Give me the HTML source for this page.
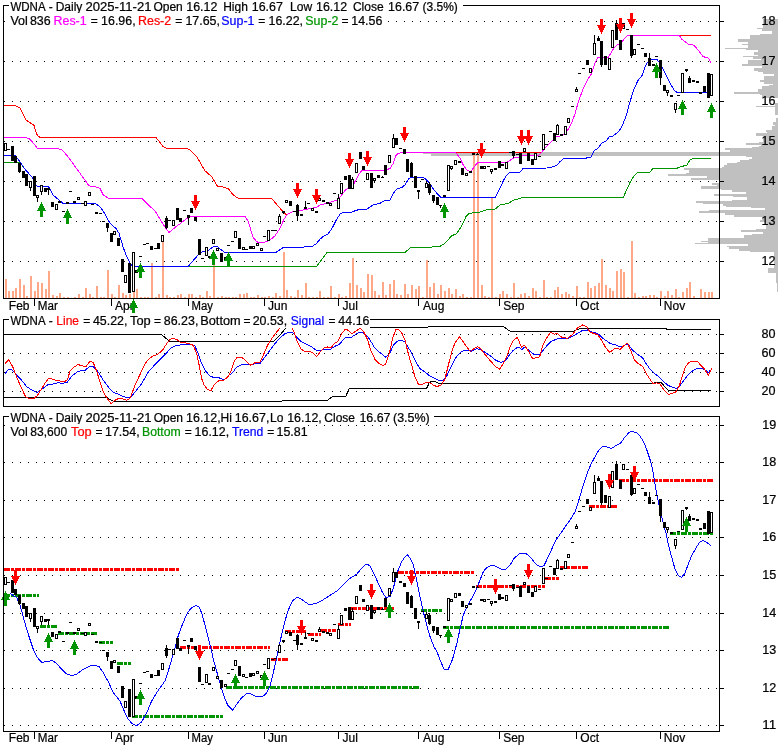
<!DOCTYPE html><html><head><meta charset="utf-8"><title>WDNA chart</title>
<style>html,body{margin:0;padding:0;background:#fff}svg{display:block}text{font-family:"Liberation Sans",Arial,sans-serif;font-size:12px;stroke-width:0.22px;paint-order:stroke}</style></head><body>
<svg width="780" height="745" viewBox="0 0 780 745">
<rect width="780" height="745" fill="#fff"/>
<g shape-rendering="crispEdges">
<rect x="763" y="19" width="15" height="9" fill="#c0c0c0"/>
<rect x="757" y="28" width="21" height="1" fill="#c0c0c0"/>
<rect x="762" y="29" width="16" height="2" fill="#c0c0c0"/>
<rect x="772" y="31" width="6" height="3" fill="#c0c0c0"/>
<rect x="760" y="34" width="18" height="1" fill="#c0c0c0"/>
<rect x="750" y="35" width="28" height="4" fill="#c0c0c0"/>
<rect x="738" y="39" width="40" height="3" fill="#c0c0c0"/>
<rect x="748" y="42" width="30" height="2" fill="#c0c0c0"/>
<rect x="742" y="44" width="36" height="1" fill="#c0c0c0"/>
<rect x="748" y="45" width="30" height="3" fill="#c0c0c0"/>
<rect x="725" y="48" width="53" height="1" fill="#c0c0c0"/>
<rect x="746" y="49" width="32" height="1" fill="#c0c0c0"/>
<rect x="758" y="50" width="20" height="2" fill="#c0c0c0"/>
<rect x="754" y="52" width="24" height="3" fill="#c0c0c0"/>
<rect x="758" y="55" width="20" height="1" fill="#c0c0c0"/>
<rect x="743" y="56" width="35" height="1" fill="#c0c0c0"/>
<rect x="753" y="57" width="25" height="2" fill="#c0c0c0"/>
<rect x="761" y="59" width="17" height="1" fill="#c0c0c0"/>
<rect x="748" y="60" width="30" height="4" fill="#c0c0c0"/>
<rect x="742" y="64" width="36" height="2" fill="#c0c0c0"/>
<rect x="762" y="66" width="16" height="2" fill="#c0c0c0"/>
<rect x="754" y="68" width="24" height="3" fill="#c0c0c0"/>
<rect x="758" y="71" width="20" height="1" fill="#c0c0c0"/>
<rect x="763" y="72" width="15" height="2" fill="#c0c0c0"/>
<rect x="774" y="74" width="4" height="2" fill="#c0c0c0"/>
<rect x="764" y="76" width="14" height="4" fill="#c0c0c0"/>
<rect x="760" y="80" width="18" height="2" fill="#c0c0c0"/>
<rect x="764" y="82" width="14" height="2" fill="#c0c0c0"/>
<rect x="773" y="84" width="5" height="1" fill="#c0c0c0"/>
<rect x="769" y="85" width="9" height="1" fill="#c0c0c0"/>
<rect x="762" y="86" width="16" height="3" fill="#c0c0c0"/>
<rect x="758" y="89" width="20" height="3" fill="#c0c0c0"/>
<rect x="734" y="92" width="44" height="2" fill="#c0c0c0"/>
<rect x="760" y="94" width="18" height="1" fill="#c0c0c0"/>
<rect x="762" y="95" width="16" height="3" fill="#c0c0c0"/>
<rect x="775" y="103" width="3" height="12" fill="#c0c0c0"/>
<rect x="756" y="106" width="22" height="1" fill="#c0c0c0"/>
<rect x="776" y="118" width="2" height="4" fill="#c0c0c0"/>
<rect x="773" y="122" width="5" height="3" fill="#c0c0c0"/>
<rect x="775" y="125" width="3" height="1" fill="#c0c0c0"/>
<rect x="772" y="126" width="6" height="4" fill="#c0c0c0"/>
<rect x="766" y="130" width="12" height="2" fill="#c0c0c0"/>
<rect x="767" y="132" width="11" height="1" fill="#c0c0c0"/>
<rect x="756" y="133" width="22" height="3" fill="#c0c0c0"/>
<rect x="763" y="136" width="15" height="6" fill="#c0c0c0"/>
<rect x="759" y="142" width="19" height="1" fill="#c0c0c0"/>
<rect x="746" y="143" width="32" height="2" fill="#c0c0c0"/>
<rect x="761" y="145" width="17" height="1" fill="#c0c0c0"/>
<rect x="759" y="146" width="19" height="1" fill="#c0c0c0"/>
<rect x="752" y="147" width="26" height="1" fill="#c0c0c0"/>
<rect x="725" y="148" width="53" height="2" fill="#c0c0c0"/>
<rect x="730" y="150" width="48" height="2" fill="#c0c0c0"/>
<rect x="423" y="152" width="355" height="2" fill="#c0c0c0"/>
<rect x="431" y="154" width="347" height="2" fill="#c0c0c0"/>
<rect x="746" y="156" width="32" height="1" fill="#c0c0c0"/>
<rect x="752" y="157" width="26" height="2" fill="#c0c0c0"/>
<rect x="749" y="159" width="29" height="1" fill="#c0c0c0"/>
<rect x="740" y="160" width="38" height="2" fill="#c0c0c0"/>
<rect x="737" y="162" width="41" height="1" fill="#c0c0c0"/>
<rect x="727" y="163" width="51" height="2" fill="#c0c0c0"/>
<rect x="724" y="165" width="54" height="2" fill="#c0c0c0"/>
<rect x="722" y="167" width="56" height="1" fill="#c0c0c0"/>
<rect x="684" y="168" width="94" height="2" fill="#c0c0c0"/>
<rect x="689" y="170" width="89" height="3" fill="#c0c0c0"/>
<rect x="686" y="173" width="92" height="1" fill="#c0c0c0"/>
<rect x="668" y="174" width="110" height="2" fill="#c0c0c0"/>
<rect x="707" y="176" width="71" height="2" fill="#c0c0c0"/>
<rect x="691" y="178" width="87" height="2" fill="#c0c0c0"/>
<rect x="719" y="180" width="59" height="3" fill="#c0c0c0"/>
<rect x="712" y="183" width="66" height="2" fill="#c0c0c0"/>
<rect x="717" y="185" width="61" height="1" fill="#c0c0c0"/>
<rect x="701" y="186" width="77" height="3" fill="#c0c0c0"/>
<rect x="721" y="189" width="57" height="1" fill="#c0c0c0"/>
<rect x="732" y="190" width="46" height="2" fill="#c0c0c0"/>
<rect x="746" y="192" width="32" height="2" fill="#c0c0c0"/>
<rect x="714" y="194" width="64" height="2" fill="#c0c0c0"/>
<rect x="733" y="196" width="45" height="1" fill="#c0c0c0"/>
<rect x="747" y="197" width="31" height="3" fill="#c0c0c0"/>
<rect x="732" y="200" width="46" height="1" fill="#c0c0c0"/>
<rect x="696" y="201" width="82" height="2" fill="#c0c0c0"/>
<rect x="703" y="203" width="75" height="1" fill="#c0c0c0"/>
<rect x="723" y="204" width="55" height="2" fill="#c0c0c0"/>
<rect x="726" y="206" width="52" height="1" fill="#c0c0c0"/>
<rect x="751" y="207" width="27" height="1" fill="#c0c0c0"/>
<rect x="765" y="208" width="13" height="2" fill="#c0c0c0"/>
<rect x="709" y="210" width="69" height="1" fill="#c0c0c0"/>
<rect x="699" y="211" width="79" height="2" fill="#c0c0c0"/>
<rect x="725" y="213" width="53" height="2" fill="#c0c0c0"/>
<rect x="734" y="215" width="44" height="2" fill="#c0c0c0"/>
<rect x="762" y="217" width="16" height="3" fill="#c0c0c0"/>
<rect x="760" y="220" width="18" height="2" fill="#c0c0c0"/>
<rect x="766" y="222" width="12" height="7" fill="#c0c0c0"/>
<rect x="756" y="229" width="22" height="1" fill="#c0c0c0"/>
<rect x="741" y="230" width="37" height="2" fill="#c0c0c0"/>
<rect x="763" y="232" width="15" height="2" fill="#c0c0c0"/>
<rect x="752" y="234" width="26" height="1" fill="#c0c0c0"/>
<rect x="744" y="235" width="34" height="3" fill="#c0c0c0"/>
<rect x="708" y="238" width="70" height="3" fill="#c0c0c0"/>
<rect x="701" y="241" width="77" height="1" fill="#c0c0c0"/>
<rect x="708" y="242" width="70" height="1" fill="#c0c0c0"/>
<rect x="695" y="243" width="83" height="1" fill="#c0c0c0"/>
<rect x="748" y="244" width="30" height="2" fill="#c0c0c0"/>
<rect x="727" y="246" width="51" height="1" fill="#c0c0c0"/>
<rect x="729" y="247" width="49" height="2" fill="#c0c0c0"/>
<rect x="739" y="249" width="39" height="2" fill="#c0c0c0"/>
<rect x="750" y="251" width="28" height="1" fill="#c0c0c0"/>
<rect x="774" y="252" width="4" height="16" fill="#c0c0c0"/>
<rect x="768" y="268" width="10" height="5" fill="#c0c0c0"/>
<rect x="776" y="273" width="2" height="10" fill="#c0c0c0"/>
<rect x="777" y="283" width="1" height="9" fill="#c0c0c0"/>
</g>
<g shape-rendering="crispEdges" fill="#000">
<line x1="4" y1="21.5" x2="719" y2="21.5" stroke="#000" stroke-width="1" stroke-dasharray="1 7"/>
<line x1="4" y1="61.5" x2="719" y2="61.5" stroke="#000" stroke-width="1" stroke-dasharray="1 7"/>
<line x1="4" y1="101.5" x2="719" y2="101.5" stroke="#000" stroke-width="1" stroke-dasharray="1 7"/>
<line x1="4" y1="141.5" x2="719" y2="141.5" stroke="#000" stroke-width="1" stroke-dasharray="1 7"/>
<line x1="4" y1="181.5" x2="719" y2="181.5" stroke="#000" stroke-width="1" stroke-dasharray="1 7"/>
<line x1="4" y1="221.5" x2="719" y2="221.5" stroke="#000" stroke-width="1" stroke-dasharray="1 7"/>
<line x1="4" y1="261.5" x2="719" y2="261.5" stroke="#000" stroke-width="1" stroke-dasharray="1 7"/>
</g>
<g shape-rendering="crispEdges">
<rect x="5" y="279" width="2" height="19" fill="#ffa888"/>
<rect x="8" y="291" width="2" height="7" fill="#ffa888"/>
<rect x="12" y="291" width="2" height="7" fill="#ffa888"/>
<rect x="15" y="288" width="2" height="10" fill="#ffa888"/>
<rect x="19" y="279" width="2" height="19" fill="#ffa888"/>
<rect x="23" y="285" width="2" height="13" fill="#ffa888"/>
<rect x="26" y="296" width="2" height="2" fill="#ffa888"/>
<rect x="30" y="276" width="2" height="22" fill="#ffa888"/>
<rect x="34" y="291" width="2" height="7" fill="#ffa888"/>
<rect x="37" y="282" width="2" height="16" fill="#ffa888"/>
<rect x="41" y="283" width="2" height="15" fill="#ffa888"/>
<rect x="45" y="289" width="2" height="9" fill="#ffa888"/>
<rect x="48" y="271" width="2" height="27" fill="#ffa888"/>
<rect x="52" y="295" width="2" height="3" fill="#ffa888"/>
<rect x="56" y="296" width="2" height="2" fill="#ffa888"/>
<rect x="59" y="293" width="2" height="5" fill="#ffa888"/>
<rect x="63" y="297" width="2" height="1" fill="#ffa888"/>
<rect x="67" y="297" width="2" height="1" fill="#ffa888"/>
<rect x="74" y="297" width="2" height="1" fill="#ffa888"/>
<rect x="78" y="294" width="2" height="4" fill="#ffa888"/>
<rect x="82" y="297" width="2" height="1" fill="#ffa888"/>
<rect x="85" y="288" width="2" height="10" fill="#ffa888"/>
<rect x="89" y="294" width="2" height="4" fill="#ffa888"/>
<rect x="92" y="297" width="2" height="1" fill="#ffa888"/>
<rect x="96" y="286" width="2" height="12" fill="#ffa888"/>
<rect x="100" y="297" width="2" height="1" fill="#ffa888"/>
<rect x="103" y="297" width="2" height="1" fill="#ffa888"/>
<rect x="107" y="270" width="2" height="28" fill="#ffa888"/>
<rect x="111" y="294" width="2" height="4" fill="#ffa888"/>
<rect x="114" y="297" width="2" height="1" fill="#ffa888"/>
<rect x="118" y="285" width="2" height="13" fill="#ffa888"/>
<rect x="122" y="293" width="2" height="5" fill="#ffa888"/>
<rect x="125" y="295" width="2" height="3" fill="#ffa888"/>
<rect x="129" y="294" width="2" height="4" fill="#ffa888"/>
<rect x="133" y="291" width="2" height="7" fill="#ffa888"/>
<rect x="136" y="289" width="2" height="9" fill="#ffa888"/>
<rect x="140" y="297" width="2" height="1" fill="#ffa888"/>
<rect x="144" y="297" width="2" height="1" fill="#ffa888"/>
<rect x="147" y="297" width="2" height="1" fill="#ffa888"/>
<rect x="151" y="263" width="2" height="35" fill="#ffa888"/>
<rect x="155" y="297" width="2" height="1" fill="#ffa888"/>
<rect x="158" y="294" width="2" height="4" fill="#ffa888"/>
<rect x="162" y="242" width="2" height="56" fill="#ffa888"/>
<rect x="166" y="295" width="2" height="3" fill="#ffa888"/>
<rect x="169" y="297" width="2" height="1" fill="#ffa888"/>
<rect x="173" y="297" width="2" height="1" fill="#ffa888"/>
<rect x="177" y="295" width="2" height="3" fill="#ffa888"/>
<rect x="180" y="294" width="2" height="4" fill="#ffa888"/>
<rect x="184" y="297" width="2" height="1" fill="#ffa888"/>
<rect x="188" y="294" width="2" height="4" fill="#ffa888"/>
<rect x="191" y="294" width="2" height="4" fill="#ffa888"/>
<rect x="195" y="297" width="2" height="1" fill="#ffa888"/>
<rect x="199" y="295" width="2" height="3" fill="#ffa888"/>
<rect x="202" y="297" width="2" height="1" fill="#ffa888"/>
<rect x="206" y="291" width="2" height="7" fill="#ffa888"/>
<rect x="209" y="296" width="2" height="2" fill="#ffa888"/>
<rect x="213" y="263" width="2" height="35" fill="#ffa888"/>
<rect x="217" y="297" width="2" height="1" fill="#ffa888"/>
<rect x="221" y="296" width="2" height="2" fill="#ffa888"/>
<rect x="225" y="297" width="2" height="1" fill="#ffa888"/>
<rect x="228" y="297" width="2" height="1" fill="#ffa888"/>
<rect x="232" y="297" width="2" height="1" fill="#ffa888"/>
<rect x="235" y="297" width="2" height="1" fill="#ffa888"/>
<rect x="239" y="294" width="2" height="4" fill="#ffa888"/>
<rect x="243" y="294" width="2" height="4" fill="#ffa888"/>
<rect x="246" y="293" width="2" height="5" fill="#ffa888"/>
<rect x="250" y="297" width="2" height="1" fill="#ffa888"/>
<rect x="253" y="297" width="2" height="1" fill="#ffa888"/>
<rect x="257" y="295" width="2" height="3" fill="#ffa888"/>
<rect x="261" y="297" width="2" height="1" fill="#ffa888"/>
<rect x="264" y="297" width="2" height="1" fill="#ffa888"/>
<rect x="268" y="296" width="2" height="2" fill="#ffa888"/>
<rect x="272" y="297" width="2" height="1" fill="#ffa888"/>
<rect x="275" y="293" width="2" height="5" fill="#ffa888"/>
<rect x="279" y="296" width="2" height="2" fill="#ffa888"/>
<rect x="283" y="252" width="2" height="46" fill="#ffa888"/>
<rect x="286" y="290" width="2" height="8" fill="#ffa888"/>
<rect x="290" y="296" width="2" height="2" fill="#ffa888"/>
<rect x="294" y="297" width="2" height="1" fill="#ffa888"/>
<rect x="297" y="290" width="2" height="8" fill="#ffa888"/>
<rect x="301" y="295" width="2" height="3" fill="#ffa888"/>
<rect x="305" y="283" width="2" height="15" fill="#ffa888"/>
<rect x="308" y="297" width="2" height="1" fill="#ffa888"/>
<rect x="312" y="297" width="2" height="1" fill="#ffa888"/>
<rect x="316" y="297" width="2" height="1" fill="#ffa888"/>
<rect x="319" y="291" width="2" height="7" fill="#ffa888"/>
<rect x="323" y="297" width="2" height="1" fill="#ffa888"/>
<rect x="327" y="297" width="2" height="1" fill="#ffa888"/>
<rect x="330" y="286" width="2" height="12" fill="#ffa888"/>
<rect x="334" y="297" width="2" height="1" fill="#ffa888"/>
<rect x="338" y="294" width="2" height="4" fill="#ffa888"/>
<rect x="341" y="297" width="2" height="1" fill="#ffa888"/>
<rect x="345" y="296" width="2" height="2" fill="#ffa888"/>
<rect x="349" y="283" width="2" height="15" fill="#ffa888"/>
<rect x="352" y="258" width="2" height="40" fill="#ffa888"/>
<rect x="356" y="285" width="2" height="13" fill="#ffa888"/>
<rect x="360" y="288" width="2" height="10" fill="#ffa888"/>
<rect x="363" y="292" width="2" height="6" fill="#ffa888"/>
<rect x="367" y="274" width="2" height="24" fill="#ffa888"/>
<rect x="371" y="275" width="2" height="23" fill="#ffa888"/>
<rect x="374" y="291" width="2" height="7" fill="#ffa888"/>
<rect x="378" y="295" width="2" height="3" fill="#ffa888"/>
<rect x="382" y="282" width="2" height="16" fill="#ffa888"/>
<rect x="385" y="295" width="2" height="3" fill="#ffa888"/>
<rect x="389" y="284" width="2" height="14" fill="#ffa888"/>
<rect x="393" y="280" width="2" height="18" fill="#ffa888"/>
<rect x="396" y="294" width="2" height="4" fill="#ffa888"/>
<rect x="400" y="295" width="2" height="3" fill="#ffa888"/>
<rect x="404" y="284" width="2" height="14" fill="#ffa888"/>
<rect x="407" y="294" width="2" height="4" fill="#ffa888"/>
<rect x="411" y="285" width="2" height="13" fill="#ffa888"/>
<rect x="415" y="289" width="2" height="9" fill="#ffa888"/>
<rect x="418" y="286" width="2" height="12" fill="#ffa888"/>
<rect x="422" y="297" width="2" height="1" fill="#ffa888"/>
<rect x="426" y="260" width="2" height="38" fill="#ffa888"/>
<rect x="429" y="287" width="2" height="11" fill="#ffa888"/>
<rect x="433" y="283" width="2" height="15" fill="#ffa888"/>
<rect x="437" y="294" width="2" height="4" fill="#ffa888"/>
<rect x="440" y="285" width="2" height="13" fill="#ffa888"/>
<rect x="444" y="291" width="2" height="7" fill="#ffa888"/>
<rect x="448" y="288" width="2" height="10" fill="#ffa888"/>
<rect x="451" y="294" width="2" height="4" fill="#ffa888"/>
<rect x="455" y="289" width="2" height="9" fill="#ffa888"/>
<rect x="459" y="296" width="2" height="2" fill="#ffa888"/>
<rect x="462" y="294" width="2" height="4" fill="#ffa888"/>
<rect x="466" y="297" width="2" height="1" fill="#ffa888"/>
<rect x="470" y="297" width="2" height="1" fill="#ffa888"/>
<rect x="473" y="155" width="2" height="143" fill="#ffa888"/>
<rect x="477" y="155" width="2" height="143" fill="#ffa888"/>
<rect x="481" y="285" width="2" height="13" fill="#ffa888"/>
<rect x="484" y="296" width="2" height="2" fill="#ffa888"/>
<rect x="488" y="297" width="2" height="1" fill="#ffa888"/>
<rect x="491" y="198" width="2" height="100" fill="#ffa888"/>
<rect x="495" y="297" width="2" height="1" fill="#ffa888"/>
<rect x="499" y="294" width="2" height="4" fill="#ffa888"/>
<rect x="502" y="291" width="2" height="7" fill="#ffa888"/>
<rect x="506" y="294" width="2" height="4" fill="#ffa888"/>
<rect x="510" y="297" width="2" height="1" fill="#ffa888"/>
<rect x="513" y="283" width="2" height="15" fill="#ffa888"/>
<rect x="517" y="297" width="2" height="1" fill="#ffa888"/>
<rect x="520" y="294" width="2" height="4" fill="#ffa888"/>
<rect x="524" y="293" width="2" height="5" fill="#ffa888"/>
<rect x="528" y="296" width="2" height="2" fill="#ffa888"/>
<rect x="532" y="288" width="2" height="10" fill="#ffa888"/>
<rect x="535" y="291" width="2" height="7" fill="#ffa888"/>
<rect x="539" y="297" width="2" height="1" fill="#ffa888"/>
<rect x="543" y="280" width="2" height="18" fill="#ffa888"/>
<rect x="546" y="297" width="2" height="1" fill="#ffa888"/>
<rect x="550" y="297" width="2" height="1" fill="#ffa888"/>
<rect x="554" y="290" width="2" height="8" fill="#ffa888"/>
<rect x="557" y="287" width="2" height="11" fill="#ffa888"/>
<rect x="561" y="294" width="2" height="4" fill="#ffa888"/>
<rect x="565" y="292" width="2" height="6" fill="#ffa888"/>
<rect x="568" y="294" width="2" height="4" fill="#ffa888"/>
<rect x="572" y="296" width="2" height="2" fill="#ffa888"/>
<rect x="576" y="286" width="2" height="12" fill="#ffa888"/>
<rect x="579" y="297" width="2" height="1" fill="#ffa888"/>
<rect x="583" y="297" width="2" height="1" fill="#ffa888"/>
<rect x="587" y="282" width="2" height="16" fill="#ffa888"/>
<rect x="590" y="288" width="2" height="10" fill="#ffa888"/>
<rect x="594" y="286" width="2" height="12" fill="#ffa888"/>
<rect x="598" y="283" width="2" height="15" fill="#ffa888"/>
<rect x="601" y="259" width="2" height="39" fill="#ffa888"/>
<rect x="605" y="285" width="2" height="13" fill="#ffa888"/>
<rect x="609" y="288" width="2" height="10" fill="#ffa888"/>
<rect x="612" y="291" width="2" height="7" fill="#ffa888"/>
<rect x="616" y="271" width="2" height="27" fill="#ffa888"/>
<rect x="620" y="269" width="2" height="29" fill="#ffa888"/>
<rect x="623" y="272" width="2" height="26" fill="#ffa888"/>
<rect x="627" y="297" width="2" height="1" fill="#ffa888"/>
<rect x="631" y="241" width="2" height="57" fill="#ffa888"/>
<rect x="634" y="293" width="2" height="5" fill="#ffa888"/>
<rect x="638" y="297" width="2" height="1" fill="#ffa888"/>
<rect x="642" y="296" width="2" height="2" fill="#ffa888"/>
<rect x="645" y="296" width="2" height="2" fill="#ffa888"/>
<rect x="649" y="295" width="2" height="3" fill="#ffa888"/>
<rect x="653" y="295" width="2" height="3" fill="#ffa888"/>
<rect x="656" y="297" width="2" height="1" fill="#ffa888"/>
<rect x="660" y="291" width="2" height="7" fill="#ffa888"/>
<rect x="664" y="296" width="2" height="2" fill="#ffa888"/>
<rect x="667" y="291" width="2" height="7" fill="#ffa888"/>
<rect x="671" y="295" width="2" height="3" fill="#ffa888"/>
<rect x="675" y="289" width="2" height="9" fill="#ffa888"/>
<rect x="678" y="297" width="2" height="1" fill="#ffa888"/>
<rect x="682" y="292" width="2" height="6" fill="#ffa888"/>
<rect x="686" y="288" width="2" height="10" fill="#ffa888"/>
<rect x="689" y="282" width="2" height="16" fill="#ffa888"/>
<rect x="693" y="296" width="2" height="2" fill="#ffa888"/>
<rect x="700" y="289" width="2" height="9" fill="#ffa888"/>
<rect x="704" y="292" width="2" height="6" fill="#ffa888"/>
<rect x="708" y="292" width="2" height="6" fill="#ffa888"/>
<rect x="711" y="292" width="2" height="6" fill="#ffa888"/>
</g>
<polyline points="4,162.5 20,162.5 25,169.2 33,178.3 36,185.8 38,186.3 48.3,186.3 53,195 63,203.3 95,203.3 100,206.7 104.5,213.3 108,220 111.7,225 116,228.3 119,233.3 123,246.7 126.7,256.7 130,263.3 133,266.3 316.7,266.3 327,252.5 405,252.5 410,248 430,247.2 440,246.3 445,243.3 451.7,235.8 456.7,233.7 461.7,225.8 466,216.5 468.5,213.8 471,213.3 476,212.2 480,212 486.7,209.7 495,209.2 500,205 508.3,203.3 513.3,200.3 520,198.3 521.7,197.5 623.3,197.3 630,182.5 634.2,175.5 637.7,172.4 649.5,172.4 653.2,168.4 676.7,168.4 679,167.2 683.5,166 687,165 690,159.8 692.6,158.6 710.8,158.6" fill="none" stroke="#009400" stroke-width="1" shape-rendering="crispEdges"/>
<polyline points="4,105.5 13,105.5 17,106.2 20,108 22.5,113 25.8,120 30,122.5 34,125.5 35.8,131.5 37.5,135.8 40,137.3 155.8,137.3 160,142.5 163.3,146.7 166.7,148.3 186.7,148.3 190,150 196.7,156.7 205,170.8 211.7,176.7 217.5,186.3 223.3,187 228.3,188.7 233.3,195 238.3,198.3 271.7,198.3 275,202.5 280,208.3 284,212.5 286.5,215" fill="none" stroke="#ff0000" stroke-width="1" shape-rendering="crispEdges"/>
<polyline points="455.8,152.5 541.7,152.5" fill="none" stroke="#ff0000" stroke-width="1" shape-rendering="crispEdges"/>
<polyline points="679.2,35.3 710.8,35.3" fill="none" stroke="#ff0000" stroke-width="1" shape-rendering="crispEdges"/>
<polyline points="4,137.5 26,137.5 30,139.2 37.5,148.3 57.5,148.3 62.5,150.3 68,156.7 80,173.3 89,185.8 95,186.7 100,188.3 103,194.7 108,198 112,198.4 142,198.3 148.3,205 155,210.8 163,224.2 169,232.5 175,227.5 181.7,222.5 185.8,219.2 191.7,216.3 245,216.3 248.3,221.7 250.8,230 253.3,237.5 256.7,241.7 260,243 265,242 270,240 275,235.8 280,228.3 284,219.2 287.5,214.2 293,211.3 300,210.5 310,208.7 316.7,207 320.8,204.7 330,202.5 337.5,199.7 341.7,195 345,190.5 348.3,188 353.3,185 356.7,178.3 360.8,171.3 363.3,170.3 385,170.3 390,168.5 393.3,163.3 395.8,155.8 398.3,153.3 401.7,152.5 455.8,152.5 460,158.3 463.3,165 466.7,170 470,171.3 471.7,170.8 474.2,166.7 477.5,163 480,162.5 505.8,162.5 509.2,160.8 513.3,158.3 515.4,157.5 520.5,157.5 523,155.4 538.5,155.4 541.5,152.3 546,147 550.8,142.3 556.2,136.5 560,136 563.3,134.7 568.3,129.2 571.7,122.5 575,114 578.3,101.7 583.3,88.3 587.5,80 591.7,73.3 595,63.3 597.5,57.5 608.3,57.5 612.5,50 616.7,45 620,44.7 623.3,40 627.5,35.3 679.2,35.3 681.7,39.2 685,41.7 688.3,44.2 693.3,45 696.7,48.3 700,52.5 703.3,56.7 708.3,58 710.8,62.5" fill="none" stroke="#ff00ff" stroke-width="1" shape-rendering="crispEdges"/>
<polyline points="4,155.3 15,155.3 20,161.7 25,169.2 33,178.3 36,185.8 38,186.3 48.3,186.3 53,195 63,203.3 95,203.3 100,206.7 104.5,213.3 108,220 111.7,225 116,228.3 119,233.3 123,246.7 126.7,256.7 130,263.3 133,266.3 188.3,266.3 198.3,254.7 203.3,251.3 208.3,250.3 213.3,246.7 217.5,246.7 221.7,250.3 225,252.5 275.8,252.5 283.3,247.5 301.7,247.5 305,246.7 312.5,246.3 316.7,243.3 320,239.2 324,235.8 328.3,233.7 332.5,227.5 336.7,219.2 340,214.2 342,212.8 351.7,212 358.3,209.7 366.7,209.2 373.3,204.7 380,203.3 385,200.5 390,200 393.3,193.3 396.7,189.2 401.7,187.5 405,185 408.3,179.2 411.7,177 423.3,177.5 426.7,180 430,184.2 434.2,190 438.3,195 440.8,197.5 495,197.5 499.2,190 503.3,180.8 506.7,175 510,172.5 520,172 523.3,168.3 546.7,168 553.3,166.7 556.7,165.3 560,161.7 563.3,158.7 585,158.3 590.8,157.2 594.2,150.8 598.3,148 601.7,143 605.8,141.3 609.2,137 613.3,135.8 617.5,132.5 620.8,128.7 623.3,123.3 626.7,114 630,101.7 634.2,88.3 638.3,80 642.5,75 645.8,65 648.3,61.3 650,59.5 656.7,59.2 660,63.3 665,73.3 670,83.3 675,91.3 677.5,92.5 706.7,92.5" fill="none" stroke="#0000ff" stroke-width="1" shape-rendering="crispEdges"/>
<g shape-rendering="crispEdges">
<rect x="4" y="143" width="3" height="8" fill="#000"/>
<rect x="5" y="144" width="1" height="6" fill="#fff"/>
<rect x="7" y="149" width="3" height="1" fill="#000"/>
<rect x="11" y="146" width="3" height="15" fill="#000"/>
<rect x="14" y="156" width="3" height="7" fill="#000"/>
<rect x="19" y="172" width="1" height="1" fill="#000"/>
<rect x="18" y="163" width="3" height="9" fill="#000"/>
<rect x="22" y="171" width="3" height="7" fill="#000"/>
<rect x="25" y="174" width="3" height="12" fill="#000"/>
<rect x="30" y="188" width="1" height="3" fill="#000"/>
<rect x="29" y="181" width="3" height="7" fill="#000"/>
<rect x="30" y="182" width="1" height="5" fill="#fff"/>
<rect x="33" y="176" width="3" height="20" fill="#000"/>
<rect x="37" y="198" width="1" height="4" fill="#000"/>
<rect x="36" y="195" width="3" height="3" fill="#000"/>
<rect x="37" y="196" width="1" height="1" fill="#fff"/>
<rect x="41" y="192" width="1" height="3" fill="#000"/>
<rect x="40" y="185" width="3" height="7" fill="#000"/>
<rect x="41" y="186" width="1" height="5" fill="#fff"/>
<rect x="44" y="188" width="3" height="4" fill="#000"/>
<rect x="48" y="190" width="1" height="5" fill="#000"/>
<rect x="47" y="188" width="3" height="2" fill="#000"/>
<rect x="51" y="202" width="3" height="5" fill="#000"/>
<rect x="55" y="204" width="3" height="6" fill="#000"/>
<rect x="56" y="205" width="1" height="4" fill="#fff"/>
<rect x="58" y="201" width="3" height="2" fill="#000"/>
<rect x="62" y="211" width="3" height="1" fill="#000"/>
<rect x="66" y="202" width="3" height="2" fill="#000"/>
<rect x="69" y="191" width="3" height="1" fill="#000"/>
<rect x="73" y="201" width="3" height="2" fill="#000"/>
<rect x="77" y="197" width="3" height="3" fill="#000"/>
<rect x="78" y="198" width="1" height="1" fill="#fff"/>
<rect x="81" y="203" width="3" height="1" fill="#000"/>
<rect x="84" y="201" width="3" height="5" fill="#000"/>
<rect x="85" y="202" width="1" height="3" fill="#fff"/>
<rect x="88" y="192" width="3" height="4" fill="#000"/>
<rect x="89" y="193" width="1" height="2" fill="#fff"/>
<rect x="91" y="204" width="3" height="1" fill="#000"/>
<rect x="95" y="212" width="3" height="2" fill="#000"/>
<rect x="99" y="213" width="3" height="1" fill="#000"/>
<rect x="102" y="221" width="3" height="1" fill="#000"/>
<rect x="107" y="228" width="1" height="4" fill="#000"/>
<rect x="106" y="223" width="3" height="5" fill="#000"/>
<rect x="110" y="233" width="3" height="9" fill="#000"/>
<rect x="113" y="231" width="3" height="4" fill="#000"/>
<rect x="114" y="232" width="1" height="2" fill="#fff"/>
<rect x="117" y="238" width="3" height="8" fill="#000"/>
<rect x="121" y="259" width="3" height="13" fill="#000"/>
<rect x="124" y="275" width="3" height="8" fill="#000"/>
<rect x="125" y="276" width="1" height="6" fill="#fff"/>
<rect x="128" y="263" width="3" height="30" fill="#000"/>
<rect x="132" y="252" width="3" height="40" fill="#000"/>
<rect x="133" y="253" width="1" height="38" fill="#fff"/>
<rect x="135" y="270" width="3" height="3" fill="#000"/>
<rect x="139" y="256" width="3" height="1" fill="#000"/>
<rect x="143" y="244" width="3" height="1" fill="#000"/>
<rect x="146" y="243" width="3" height="1" fill="#000"/>
<rect x="150" y="246" width="3" height="4" fill="#000"/>
<rect x="154" y="248" width="3" height="1" fill="#000"/>
<rect x="157" y="243" width="3" height="6" fill="#000"/>
<rect x="161" y="235" width="3" height="7" fill="#000"/>
<rect x="162" y="236" width="1" height="5" fill="#fff"/>
<rect x="166" y="216" width="1" height="2" fill="#000"/>
<rect x="166" y="228" width="1" height="1" fill="#000"/>
<rect x="165" y="218" width="3" height="10" fill="#000"/>
<rect x="168" y="220" width="3" height="1" fill="#000"/>
<rect x="172" y="220" width="3" height="6" fill="#000"/>
<rect x="173" y="221" width="1" height="4" fill="#fff"/>
<rect x="176" y="208" width="3" height="12" fill="#000"/>
<rect x="179" y="218" width="3" height="4" fill="#000"/>
<rect x="183" y="210" width="3" height="1" fill="#000"/>
<rect x="188" y="218" width="1" height="7" fill="#000"/>
<rect x="187" y="215" width="3" height="3" fill="#000"/>
<rect x="190" y="208" width="3" height="5" fill="#000"/>
<rect x="194" y="217" width="3" height="4" fill="#000"/>
<rect x="198" y="239" width="3" height="16" fill="#000"/>
<rect x="201" y="258" width="3" height="1" fill="#000"/>
<rect x="205" y="247" width="3" height="9" fill="#000"/>
<rect x="206" y="248" width="1" height="7" fill="#fff"/>
<rect x="208" y="256" width="3" height="2" fill="#000"/>
<rect x="212" y="239" width="3" height="5" fill="#000"/>
<rect x="213" y="240" width="1" height="3" fill="#fff"/>
<rect x="216" y="248" width="3" height="3" fill="#000"/>
<rect x="217" y="249" width="1" height="1" fill="#fff"/>
<rect x="220" y="253" width="3" height="9" fill="#000"/>
<rect x="224" y="257" width="3" height="3" fill="#000"/>
<rect x="225" y="258" width="1" height="1" fill="#fff"/>
<rect x="227" y="245" width="3" height="1" fill="#000"/>
<rect x="231" y="241" width="3" height="1" fill="#000"/>
<rect x="234" y="231" width="3" height="7" fill="#000"/>
<rect x="235" y="232" width="1" height="5" fill="#fff"/>
<rect x="238" y="238" width="3" height="11" fill="#000"/>
<rect x="242" y="247" width="3" height="3" fill="#000"/>
<rect x="243" y="248" width="1" height="1" fill="#fff"/>
<rect x="245" y="249" width="3" height="1" fill="#000"/>
<rect x="249" y="246" width="3" height="3" fill="#000"/>
<rect x="252" y="246" width="3" height="3" fill="#000"/>
<rect x="253" y="247" width="1" height="1" fill="#fff"/>
<rect x="256" y="243" width="3" height="3" fill="#000"/>
<rect x="257" y="244" width="1" height="1" fill="#fff"/>
<rect x="260" y="248" width="3" height="3" fill="#000"/>
<rect x="261" y="249" width="1" height="1" fill="#fff"/>
<rect x="263" y="236" width="3" height="1" fill="#000"/>
<rect x="267" y="230" width="3" height="11" fill="#000"/>
<rect x="268" y="231" width="1" height="9" fill="#fff"/>
<rect x="271" y="230" width="3" height="1" fill="#000"/>
<rect x="274" y="230" width="3" height="1" fill="#000"/>
<rect x="279" y="214" width="1" height="2" fill="#000"/>
<rect x="278" y="216" width="3" height="8" fill="#000"/>
<rect x="279" y="217" width="1" height="6" fill="#fff"/>
<rect x="283" y="213" width="1" height="1" fill="#000"/>
<rect x="282" y="211" width="3" height="2" fill="#000"/>
<rect x="285" y="200" width="3" height="3" fill="#000"/>
<rect x="286" y="201" width="1" height="1" fill="#fff"/>
<rect x="289" y="201" width="3" height="5" fill="#000"/>
<rect x="293" y="211" width="3" height="1" fill="#000"/>
<rect x="297" y="204" width="1" height="1" fill="#000"/>
<rect x="297" y="216" width="1" height="5" fill="#000"/>
<rect x="296" y="205" width="3" height="11" fill="#000"/>
<rect x="300" y="214" width="3" height="2" fill="#000"/>
<rect x="305" y="201" width="1" height="6" fill="#000"/>
<rect x="304" y="207" width="3" height="2" fill="#000"/>
<rect x="307" y="203" width="3" height="1" fill="#000"/>
<rect x="311" y="208" width="3" height="3" fill="#000"/>
<rect x="312" y="209" width="1" height="1" fill="#fff"/>
<rect x="315" y="211" width="3" height="2" fill="#000"/>
<rect x="319" y="196" width="1" height="2" fill="#000"/>
<rect x="318" y="198" width="3" height="3" fill="#000"/>
<rect x="319" y="199" width="1" height="1" fill="#fff"/>
<rect x="322" y="200" width="3" height="2" fill="#000"/>
<rect x="326" y="202" width="3" height="2" fill="#000"/>
<rect x="329" y="203" width="3" height="3" fill="#000"/>
<rect x="330" y="204" width="1" height="1" fill="#fff"/>
<rect x="333" y="193" width="3" height="1" fill="#000"/>
<rect x="338" y="194" width="1" height="4" fill="#000"/>
<rect x="337" y="198" width="3" height="11" fill="#000"/>
<rect x="338" y="199" width="1" height="9" fill="#fff"/>
<rect x="340" y="183" width="3" height="11" fill="#000"/>
<rect x="341" y="184" width="1" height="9" fill="#fff"/>
<rect x="344" y="176" width="3" height="4" fill="#000"/>
<rect x="348" y="175" width="3" height="14" fill="#000"/>
<rect x="352" y="177" width="1" height="2" fill="#000"/>
<rect x="351" y="179" width="3" height="10" fill="#000"/>
<rect x="352" y="180" width="1" height="8" fill="#fff"/>
<rect x="355" y="163" width="3" height="10" fill="#000"/>
<rect x="356" y="164" width="1" height="8" fill="#fff"/>
<rect x="359" y="152" width="3" height="7" fill="#000"/>
<rect x="362" y="166" width="3" height="4" fill="#000"/>
<rect x="366" y="173" width="3" height="7" fill="#000"/>
<rect x="367" y="174" width="1" height="5" fill="#fff"/>
<rect x="370" y="173" width="3" height="15" fill="#000"/>
<rect x="374" y="181" width="1" height="2" fill="#000"/>
<rect x="373" y="178" width="3" height="3" fill="#000"/>
<rect x="374" y="179" width="1" height="1" fill="#fff"/>
<rect x="377" y="175" width="3" height="3" fill="#000"/>
<rect x="382" y="176" width="1" height="1" fill="#000"/>
<rect x="381" y="177" width="3" height="1" fill="#000"/>
<rect x="384" y="165" width="3" height="10" fill="#000"/>
<rect x="388" y="155" width="3" height="8" fill="#000"/>
<rect x="389" y="156" width="1" height="6" fill="#fff"/>
<rect x="393" y="134" width="1" height="4" fill="#000"/>
<rect x="392" y="138" width="3" height="10" fill="#000"/>
<rect x="393" y="139" width="1" height="8" fill="#fff"/>
<rect x="395" y="138" width="3" height="7" fill="#000"/>
<rect x="399" y="148" width="3" height="1" fill="#000"/>
<rect x="403" y="149" width="3" height="5" fill="#000"/>
<rect x="406" y="159" width="3" height="13" fill="#000"/>
<rect x="411" y="162" width="1" height="1" fill="#000"/>
<rect x="410" y="163" width="3" height="14" fill="#000"/>
<rect x="414" y="176" width="3" height="12" fill="#000"/>
<rect x="418" y="192" width="1" height="7" fill="#000"/>
<rect x="417" y="190" width="3" height="2" fill="#000"/>
<rect x="421" y="179" width="3" height="1" fill="#000"/>
<rect x="426" y="181" width="1" height="2" fill="#000"/>
<rect x="425" y="183" width="3" height="5" fill="#000"/>
<rect x="426" y="184" width="1" height="3" fill="#fff"/>
<rect x="429" y="182" width="1" height="2" fill="#000"/>
<rect x="429" y="193" width="1" height="2" fill="#000"/>
<rect x="428" y="184" width="3" height="9" fill="#000"/>
<rect x="433" y="201" width="1" height="2" fill="#000"/>
<rect x="432" y="195" width="3" height="6" fill="#000"/>
<rect x="436" y="197" width="3" height="8" fill="#000"/>
<rect x="440" y="206" width="1" height="2" fill="#000"/>
<rect x="439" y="205" width="3" height="1" fill="#000"/>
<rect x="443" y="195" width="3" height="2" fill="#000"/>
<rect x="447" y="165" width="3" height="26" fill="#000"/>
<rect x="448" y="166" width="1" height="24" fill="#fff"/>
<rect x="451" y="168" width="1" height="2" fill="#000"/>
<rect x="450" y="166" width="3" height="3" fill="#000"/>
<rect x="451" y="167" width="1" height="1" fill="#fff"/>
<rect x="454" y="160" width="3" height="5" fill="#000"/>
<rect x="455" y="161" width="1" height="3" fill="#fff"/>
<rect x="458" y="161" width="3" height="2" fill="#000"/>
<rect x="461" y="168" width="3" height="7" fill="#000"/>
<rect x="465" y="173" width="3" height="3" fill="#000"/>
<rect x="466" y="174" width="1" height="1" fill="#fff"/>
<rect x="469" y="171" width="3" height="2" fill="#000"/>
<rect x="472" y="153" width="3" height="2" fill="#000"/>
<rect x="477" y="153" width="1" height="1" fill="#000"/>
<rect x="476" y="154" width="3" height="1" fill="#000"/>
<rect x="480" y="166" width="3" height="3" fill="#000"/>
<rect x="483" y="166" width="3" height="3" fill="#000"/>
<rect x="484" y="167" width="1" height="1" fill="#fff"/>
<rect x="487" y="166" width="3" height="1" fill="#000"/>
<rect x="491" y="171" width="1" height="3" fill="#000"/>
<rect x="490" y="169" width="3" height="3" fill="#000"/>
<rect x="491" y="170" width="1" height="1" fill="#fff"/>
<rect x="494" y="168" width="3" height="2" fill="#000"/>
<rect x="498" y="161" width="3" height="7" fill="#000"/>
<rect x="501" y="164" width="3" height="2" fill="#000"/>
<rect x="505" y="162" width="3" height="7" fill="#000"/>
<rect x="506" y="163" width="1" height="5" fill="#fff"/>
<rect x="509" y="152" width="3" height="1" fill="#000"/>
<rect x="513" y="156" width="1" height="2" fill="#000"/>
<rect x="512" y="151" width="3" height="5" fill="#000"/>
<rect x="516" y="154" width="3" height="1" fill="#000"/>
<rect x="519" y="153" width="3" height="11" fill="#000"/>
<rect x="523" y="148" width="3" height="4" fill="#000"/>
<rect x="524" y="149" width="1" height="2" fill="#fff"/>
<rect x="527" y="153" width="3" height="8" fill="#000"/>
<rect x="531" y="159" width="3" height="6" fill="#000"/>
<rect x="534" y="153" width="3" height="7" fill="#000"/>
<rect x="535" y="154" width="1" height="5" fill="#fff"/>
<rect x="538" y="156" width="3" height="1" fill="#000"/>
<rect x="542" y="134" width="3" height="16" fill="#000"/>
<rect x="543" y="135" width="1" height="14" fill="#fff"/>
<rect x="545" y="144" width="3" height="1" fill="#000"/>
<rect x="549" y="131" width="3" height="1" fill="#000"/>
<rect x="553" y="133" width="3" height="8" fill="#000"/>
<rect x="557" y="124" width="1" height="1" fill="#000"/>
<rect x="556" y="125" width="3" height="10" fill="#000"/>
<rect x="557" y="126" width="1" height="8" fill="#fff"/>
<rect x="560" y="134" width="3" height="2" fill="#000"/>
<rect x="564" y="126" width="3" height="9" fill="#000"/>
<rect x="565" y="127" width="1" height="7" fill="#fff"/>
<rect x="567" y="118" width="3" height="5" fill="#000"/>
<rect x="568" y="119" width="1" height="3" fill="#fff"/>
<rect x="571" y="106" width="3" height="1" fill="#000"/>
<rect x="576" y="87" width="1" height="2" fill="#000"/>
<rect x="575" y="89" width="3" height="3" fill="#000"/>
<rect x="576" y="90" width="1" height="1" fill="#fff"/>
<rect x="578" y="73" width="3" height="1" fill="#000"/>
<rect x="582" y="68" width="3" height="1" fill="#000"/>
<rect x="586" y="60" width="3" height="5" fill="#000"/>
<rect x="589" y="68" width="3" height="5" fill="#000"/>
<rect x="590" y="69" width="1" height="3" fill="#fff"/>
<rect x="594" y="35" width="1" height="8" fill="#000"/>
<rect x="593" y="43" width="3" height="12" fill="#000"/>
<rect x="594" y="44" width="1" height="10" fill="#fff"/>
<rect x="598" y="36" width="1" height="2" fill="#000"/>
<rect x="597" y="38" width="3" height="3" fill="#000"/>
<rect x="601" y="65" width="1" height="2" fill="#000"/>
<rect x="600" y="41" width="3" height="24" fill="#000"/>
<rect x="604" y="56" width="3" height="9" fill="#000"/>
<rect x="608" y="58" width="3" height="12" fill="#000"/>
<rect x="609" y="59" width="1" height="10" fill="#fff"/>
<rect x="611" y="30" width="3" height="18" fill="#000"/>
<rect x="612" y="31" width="1" height="16" fill="#fff"/>
<rect x="616" y="20" width="1" height="3" fill="#000"/>
<rect x="615" y="23" width="3" height="17" fill="#000"/>
<rect x="619" y="40" width="3" height="10" fill="#000"/>
<rect x="622" y="23" width="3" height="6" fill="#000"/>
<rect x="623" y="24" width="1" height="4" fill="#fff"/>
<rect x="626" y="29" width="3" height="1" fill="#000"/>
<rect x="631" y="56" width="1" height="2" fill="#000"/>
<rect x="630" y="35" width="3" height="21" fill="#000"/>
<rect x="633" y="49" width="3" height="6" fill="#000"/>
<rect x="634" y="50" width="1" height="4" fill="#fff"/>
<rect x="637" y="44" width="3" height="1" fill="#000"/>
<rect x="641" y="48" width="3" height="1" fill="#000"/>
<rect x="644" y="53" width="3" height="4" fill="#000"/>
<rect x="649" y="53" width="1" height="5" fill="#000"/>
<rect x="648" y="58" width="3" height="8" fill="#000"/>
<rect x="652" y="64" width="3" height="2" fill="#000"/>
<rect x="655" y="56" width="3" height="1" fill="#000"/>
<rect x="660" y="78" width="1" height="7" fill="#000"/>
<rect x="659" y="60" width="3" height="18" fill="#000"/>
<rect x="663" y="85" width="3" height="6" fill="#000"/>
<rect x="667" y="93" width="1" height="3" fill="#000"/>
<rect x="666" y="90" width="3" height="3" fill="#000"/>
<rect x="667" y="91" width="1" height="1" fill="#fff"/>
<rect x="670" y="95" width="3" height="2" fill="#000"/>
<rect x="675" y="110" width="1" height="3" fill="#000"/>
<rect x="674" y="103" width="3" height="7" fill="#000"/>
<rect x="675" y="104" width="1" height="5" fill="#fff"/>
<rect x="677" y="95" width="3" height="1" fill="#000"/>
<rect x="681" y="73" width="3" height="20" fill="#000"/>
<rect x="682" y="74" width="1" height="18" fill="#fff"/>
<rect x="686" y="71" width="1" height="1" fill="#000"/>
<rect x="685" y="69" width="3" height="2" fill="#000"/>
<rect x="689" y="76" width="1" height="2" fill="#000"/>
<rect x="688" y="78" width="3" height="5" fill="#000"/>
<rect x="692" y="80" width="3" height="2" fill="#000"/>
<rect x="696" y="81" width="3" height="2" fill="#000"/>
<rect x="699" y="92" width="3" height="2" fill="#000"/>
<rect x="703" y="86" width="3" height="6" fill="#000"/>
<rect x="707" y="73" width="3" height="25" fill="#000"/>
<rect x="710" y="74" width="3" height="22" fill="#000"/>
<rect x="711" y="75" width="1" height="20" fill="#fff"/>
</g>
<path shape-rendering="crispEdges" fill="#009400" d="M41,202h1v2h1v2h1v2h1v2h1v1h-3v6h-3v-6h-3v-1h1v-2h1v-2h1v-2h1z"/>
<path shape-rendering="crispEdges" fill="#009400" d="M67,209h1v2h1v2h1v2h1v2h1v1h-3v6h-3v-6h-3v-1h1v-2h1v-2h1v-2h1z"/>
<path shape-rendering="crispEdges" fill="#009400" d="M140,263h1v2h1v2h1v2h1v2h1v1h-3v6h-3v-6h-3v-1h1v-2h1v-2h1v-2h1z"/>
<path shape-rendering="crispEdges" fill="#009400" d="M213,250h1v2h1v2h1v2h1v2h1v1h-3v6h-3v-6h-3v-1h1v-2h1v-2h1v-2h1z"/>
<path shape-rendering="crispEdges" fill="#009400" d="M228,252h1v2h1v2h1v2h1v2h1v1h-3v6h-3v-6h-3v-1h1v-2h1v-2h1v-2h1z"/>
<path shape-rendering="crispEdges" fill="#009400" d="M444,203h1v2h1v2h1v2h1v2h1v1h-3v6h-3v-6h-3v-1h1v-2h1v-2h1v-2h1z"/>
<path shape-rendering="crispEdges" fill="#009400" d="M656,63h1v2h1v2h1v2h1v2h1v1h-3v6h-3v-6h-3v-1h1v-2h1v-2h1v-2h1z"/>
<path shape-rendering="crispEdges" fill="#009400" d="M682,100h1v2h1v2h1v2h1v2h1v1h-3v6h-3v-6h-3v-1h1v-2h1v-2h1v-2h1z"/>
<path shape-rendering="crispEdges" fill="#009400" d="M711,103h1v2h1v2h1v2h1v2h1v1h-3v6h-3v-6h-3v-1h1v-2h1v-2h1v-2h1z"/>
<path shape-rendering="crispEdges" fill="#ff0000" d="M195,210h1v-2h1v-2h1v-2h1v-2h1v-1h-3v-6h-3v6h-3v1h1v2h1v2h1v2h1z"/>
<path shape-rendering="crispEdges" fill="#ff0000" d="M297,198h1v-2h1v-2h1v-2h1v-2h1v-1h-3v-6h-3v6h-3v1h1v2h1v2h1v2h1z"/>
<path shape-rendering="crispEdges" fill="#ff0000" d="M316,204h1v-2h1v-2h1v-2h1v-2h1v-1h-3v-6h-3v6h-3v1h1v2h1v2h1v2h1z"/>
<path shape-rendering="crispEdges" fill="#ff0000" d="M349,168h1v-2h1v-2h1v-2h1v-2h1v-1h-3v-6h-3v6h-3v1h1v2h1v2h1v2h1z"/>
<path shape-rendering="crispEdges" fill="#ff0000" d="M367,166h1v-2h1v-2h1v-2h1v-2h1v-1h-3v-6h-3v6h-3v1h1v2h1v2h1v2h1z"/>
<path shape-rendering="crispEdges" fill="#ff0000" d="M404,142h1v-2h1v-2h1v-2h1v-2h1v-1h-3v-6h-3v6h-3v1h1v2h1v2h1v2h1z"/>
<path shape-rendering="crispEdges" fill="#ff0000" d="M481,158h1v-2h1v-2h1v-2h1v-2h1v-1h-3v-6h-3v6h-3v1h1v2h1v2h1v2h1z"/>
<path shape-rendering="crispEdges" fill="#ff0000" d="M521,145h1v-2h1v-2h1v-2h1v-2h1v-1h-3v-6h-3v6h-3v1h1v2h1v2h1v2h1z"/>
<path shape-rendering="crispEdges" fill="#ff0000" d="M528,145h1v-2h1v-2h1v-2h1v-2h1v-1h-3v-6h-3v6h-3v1h1v2h1v2h1v2h1z"/>
<path shape-rendering="crispEdges" fill="#ff0000" d="M601,34h1v-2h1v-2h1v-2h1v-2h1v-1h-3v-6h-3v6h-3v1h1v2h1v2h1v2h1z"/>
<path shape-rendering="crispEdges" fill="#ff0000" d="M620,33h1v-2h1v-2h1v-2h1v-2h1v-1h-3v-6h-3v6h-3v1h1v2h1v2h1v2h1z"/>
<path shape-rendering="crispEdges" fill="#ff0000" d="M631,28h1v-2h1v-2h1v-2h1v-2h1v-1h-3v-6h-3v6h-3v1h1v2h1v2h1v2h1z"/>
<g shape-rendering="crispEdges" fill="#000">
<rect x="3" y="5" width="1" height="294" fill="#000"/>
<rect x="719" y="5" width="1" height="294" fill="#000"/>
<rect x="3" y="5" width="717" height="1" fill="#000"/>
<rect x="3" y="298" width="717" height="1" fill="#000"/>
<rect x="720" y="21" width="4" height="1" fill="#000"/>
<rect x="720" y="61" width="4" height="1" fill="#000"/>
<rect x="720" y="101" width="4" height="1" fill="#000"/>
<rect x="720" y="141" width="4" height="1" fill="#000"/>
<rect x="720" y="181" width="4" height="1" fill="#000"/>
<rect x="720" y="221" width="4" height="1" fill="#000"/>
<rect x="720" y="261" width="4" height="1" fill="#000"/>
</g>
<g shape-rendering="crispEdges">
<rect x="34" y="298" width="1" height="8" fill="#000"/>
<rect x="111" y="298" width="1" height="8" fill="#000"/>
<rect x="188" y="298" width="1" height="8" fill="#000"/>
<rect x="264" y="298" width="1" height="8" fill="#000"/>
<rect x="338" y="298" width="1" height="8" fill="#000"/>
<rect x="418" y="298" width="1" height="8" fill="#000"/>
<rect x="499" y="298" width="1" height="8" fill="#000"/>
<rect x="576" y="298" width="1" height="8" fill="#000"/>
<rect x="660" y="298" width="1" height="8" fill="#000"/>
</g>
<text x="8.8" y="309.7" stroke="#000">Feb</text>
<text x="37.8" y="309.7" textLength="20" lengthAdjust="spacingAndGlyphs" stroke="#000">Mar</text>
<text x="115" y="309.7" stroke="#000">Apr</text>
<text x="191.5" y="309.7" textLength="21.4" lengthAdjust="spacingAndGlyphs" stroke="#000">May</text>
<text x="268.1" y="309.7" stroke="#000">Jun</text>
<text x="342.5" y="309.7" stroke="#000">Jul</text>
<text x="423" y="309.7" stroke="#000">Aug</text>
<text x="503.2" y="309.7" stroke="#000">Sep</text>
<text x="580.3" y="309.7" stroke="#000">Oct</text>
<text x="663.8" y="309.7" stroke="#000">Nov</text>
<path shape-rendering="crispEdges" fill="#009400" d="M133,299h1v2h1v2h1v2h1v2h1v1h-3v6h-3v-6h-3v-1h1v-2h1v-2h1v-2h1z"/>
<text x="761.5999999999999" y="25" textLength="14" lengthAdjust="spacingAndGlyphs" stroke="#000">18</text>
<text x="761.5999999999999" y="65" textLength="14" lengthAdjust="spacingAndGlyphs" stroke="#000">17</text>
<text x="761.5999999999999" y="105" textLength="14" lengthAdjust="spacingAndGlyphs" stroke="#000">16</text>
<text x="761.5999999999999" y="145" textLength="14" lengthAdjust="spacingAndGlyphs" stroke="#000">15</text>
<text x="761.5999999999999" y="185" textLength="14" lengthAdjust="spacingAndGlyphs" stroke="#000">14</text>
<text x="761.5999999999999" y="225" textLength="14" lengthAdjust="spacingAndGlyphs" stroke="#000">13</text>
<text x="761.5999999999999" y="265" textLength="14" lengthAdjust="spacingAndGlyphs" stroke="#000">12</text>
<rect x="9" y="0" width="454" height="13" fill="#fff"/>
<text x="10.39" y="10.5" textLength="35.2" lengthAdjust="spacingAndGlyphs" fill="#000" stroke="#000">WDNA</text>
<text x="48.85" y="10.5" textLength="4.0" lengthAdjust="spacingAndGlyphs" fill="#000" stroke="#000">-</text>
<text x="55.68" y="10.5" textLength="26.67" lengthAdjust="spacingAndGlyphs" fill="#000" stroke="#000">Daily</text>
<text x="85.55" y="10.5" textLength="65.88" lengthAdjust="spacingAndGlyphs" fill="#000" stroke="#000">2025-11-21</text>
<text x="153.38" y="10.5" textLength="29.36" lengthAdjust="spacingAndGlyphs" fill="#000" stroke="#000">Open</text>
<text x="186.3" y="10.5" textLength="31.08" lengthAdjust="spacingAndGlyphs" fill="#000" stroke="#000">16.12</text>
<text x="223.16" y="10.5" textLength="24.68" lengthAdjust="spacingAndGlyphs" fill="#000" stroke="#000">High</text>
<text x="251.75" y="10.5" textLength="31.08" lengthAdjust="spacingAndGlyphs" fill="#000" stroke="#000">16.67</text>
<text x="290.09" y="10.5" textLength="22.01" lengthAdjust="spacingAndGlyphs" fill="#000" stroke="#000">Low</text>
<text x="316.05" y="10.5" textLength="31.08" lengthAdjust="spacingAndGlyphs" fill="#000" stroke="#000">16.12</text>
<text x="352.92" y="10.5" textLength="30.68" lengthAdjust="spacingAndGlyphs" fill="#000" stroke="#000">Close</text>
<text x="388.1" y="10.5" textLength="31.08" lengthAdjust="spacingAndGlyphs" fill="#000" stroke="#000">16.67</text>
<text x="422.56" y="10.5" textLength="35.29" lengthAdjust="spacingAndGlyphs" fill="#000" stroke="#000">(3.5%)</text>
<rect x="9" y="13" width="376" height="14" fill="#fff"/>
<text x="10.4" y="24.5" textLength="17.34" lengthAdjust="spacingAndGlyphs" fill="#000" stroke="#000">Vol</text>
<text x="29.94" y="24.5" textLength="20.72" lengthAdjust="spacingAndGlyphs" fill="#000" stroke="#000">836</text>
<text x="53.53" y="24.5" textLength="33.13" lengthAdjust="spacingAndGlyphs" fill="#ff00ff" stroke="#ff00ff">Res-1</text>
<text x="90.85" y="24.5" textLength="7.01" lengthAdjust="spacingAndGlyphs" fill="#000" stroke="#000">=</text>
<text x="101.12" y="24.5" textLength="34.53" lengthAdjust="spacingAndGlyphs" fill="#000" stroke="#000">16.96,</text>
<text x="138.04" y="24.5" textLength="33.13" lengthAdjust="spacingAndGlyphs" fill="#ff0000" stroke="#ff0000">Res-2</text>
<text x="175.2" y="24.5" textLength="7.01" lengthAdjust="spacingAndGlyphs" fill="#000" stroke="#000">=</text>
<text x="185.42" y="24.5" textLength="34.53" lengthAdjust="spacingAndGlyphs" fill="#000" stroke="#000">17.65,</text>
<text x="221.35" y="24.5" textLength="33.14" lengthAdjust="spacingAndGlyphs" fill="#0000ff" stroke="#0000ff">Sup-1</text>
<text x="258.3" y="24.5" textLength="7.01" lengthAdjust="spacingAndGlyphs" fill="#000" stroke="#000">=</text>
<text x="268.52" y="24.5" textLength="34.53" lengthAdjust="spacingAndGlyphs" fill="#000" stroke="#000">16.22,</text>
<text x="305.31" y="24.5" textLength="33.14" lengthAdjust="spacingAndGlyphs" fill="#009400" stroke="#009400">Sup-2</text>
<text x="341.6" y="24.5" textLength="7.01" lengthAdjust="spacingAndGlyphs" fill="#000" stroke="#000">=</text>
<text x="351.26" y="24.5" textLength="31.08" lengthAdjust="spacingAndGlyphs" fill="#000" stroke="#000">14.56</text>
<g shape-rendering="crispEdges" fill="#000">
<line x1="4" y1="334.5" x2="719" y2="334.5" stroke="#000" stroke-width="1" stroke-dasharray="1 7"/>
<line x1="4" y1="353.5" x2="719" y2="353.5" stroke="#000" stroke-width="1" stroke-dasharray="1 7"/>
<line x1="4" y1="372.5" x2="719" y2="372.5" stroke="#000" stroke-width="1" stroke-dasharray="1 7"/>
<line x1="4" y1="391.5" x2="719" y2="391.5" stroke="#000" stroke-width="1" stroke-dasharray="1 7"/>
</g>
<polyline points="4,334 160.8,334 170,341.6 273.3,341.6 277.5,337.8 285.8,328.2 287,327.4 427.5,327.4 429.2,326.5 503.3,326.5 510,331.2 573.3,331.2 580,328.5 665.8,328.3 666.7,329.2 710.8,329.2" fill="none" stroke="#000" stroke-width="1" shape-rendering="crispEdges"/>
<polyline points="4,397.5 106.7,397.5 113.3,401.3 280.8,401.4 283.3,400.3 327.5,400.3 331.7,397 335,396.4 345.8,396.3 349.2,388.3 426.7,388.3 429.2,382.8 431.7,381.2 435,381.5 438.3,383.3 650,383.3 653.5,383.3 654.5,382.3 660.8,382.3 668.3,390.3 710.8,390.3" fill="none" stroke="#000" stroke-width="1" shape-rendering="crispEdges"/>
<polyline points="5,373.7 8.3,369.5 11.7,370 15.8,374 21.7,380.3 26.7,386.7 31.7,390 37.5,392.5 41.7,389.5 48.3,384.5 53.3,384 58.3,382.8 63.3,383.3 67.5,382 71.7,376.2 78.3,371.2 85,370.3 90,366.2 93.3,366.7 98.3,372 103.3,380.3 108.3,387 113.3,392.5 118.3,394 123.3,396.7 130,398 135,392 141.7,383.7 148.3,372 155,364.5 161.7,357.8 166.7,352.8 170,348.7 175,345.8 180,345 186.7,344 191.7,344 195,346.2 198.3,353.7 201.7,363.7 205.8,371.2 210,376.2 213.3,377.3 218.3,377.5 224.2,380 228.3,375.7 232.5,372.8 236.7,367 241.7,364.5 246.7,364.5 250.8,365 255,363.7 260,363.5 265,357 271.7,347.8 278.3,339.5 285,333.7 289.2,332 292.5,332.8 296.7,337 301.7,342 306.7,344.5 311.7,347 316.7,350.7 321.7,350 326.7,349 330.8,349 335,346.2 339.2,344.5 345,337.8 351.7,337 356.7,333.7 360.8,332 365,333.7 369.2,338.7 374.2,347 379.2,352 385.8,357.3 390,352.8 393.3,345.3 397.5,341.2 401.7,340.3 405,342 410,350.3 415,360.3 420,368.7 425,372 430,376.2 435,378.7 440,380.8 443.3,380.3 446.7,376.2 451.7,365.3 456.7,356.2 461.7,351.2 466.7,350.3 471.7,351.2 476.7,348.7 480.8,349.5 485.8,352.8 490.8,356.2 495.8,360.3 500.8,362.3 505,361.2 509.2,355.3 513.3,350.3 517.5,347.3 520,348 521.7,349.5 525,347 529.2,350.7 534.2,354.5 540,354.5 545,347.8 550.8,341.7 557.5,338.7 564.2,338.7 568.3,338.3 575,335 582.5,330.3 587.5,330 591.7,332 597.5,333.3 603.3,338.7 610,343.3 615.8,345 620.8,347 627.5,343.7 632.5,350 636.7,353.7 642.5,357.8 646.7,364.5 650,369 654.2,373.3 658.3,376.2 663.3,381.2 667.5,385 671.7,387 676.7,388.7 680.8,384.5 685,378.7 689.2,373.7 693.3,370.3 697.5,368.3 702.5,368.3 706.7,371.2 708.3,372.8 710,370.3" fill="none" stroke="#0000ff" stroke-width="1" shape-rendering="crispEdges"/>
<polyline points="5,363.7 8.7,360 12.5,366.2 16.7,377 21.7,388.7 25.8,397 30,398.7 34.2,398.3 37.5,395.3 41.7,388.7 45.8,382 48.7,378.3 52.5,379.2 56.7,380.7 61.7,381.2 64.2,382 67.5,379.5 70,371.2 74.2,367 78,364.5 81.7,365.7 85.8,367 90,361.2 93.3,362.8 96.7,371.2 100,382 103.3,392 106.7,397.8 111.3,404 115,400.3 118.7,398.3 123.3,399 126.7,400.3 130,398.3 135,385.3 140,374.5 145,363.7 148.3,359.5 152.5,356.2 157.5,354.5 162.5,350.3 166.7,343.7 170,339.5 173.3,338.3 176.7,339.5 180,342 185,342.8 189.2,343.7 193.3,345.3 196.7,353.7 199.2,365.3 201.7,378.7 204.2,385.3 207.5,389.5 210.8,390.8 213.3,386.2 216.7,382 220,380.3 224.2,380 228.3,376.2 231.7,369.5 234.2,361.2 236.7,357.8 240,357 243.3,358.3 246.7,362 250.8,365.3 255,362.8 260,362 263.3,355.3 267.5,345.3 271.7,338.7 276.7,332 281.7,326 286,322 291.7,326.5 294.2,332.8 297.5,342 300.8,348.7 305,352 309.2,351.2 312.5,352.8 316.7,356.7 320.8,351.2 324.2,347.8 327.5,347 330.8,347.8 334.2,343.7 338,341.2 341.7,333.7 345.3,329.2 348.3,330.3 351.7,333.7 355.8,331.2 360,328.3 363.3,331.2 367.5,339.5 370.8,350.3 375,359.5 379.2,363.7 383.3,365.7 385.8,363.7 388.3,356.2 390,350.3 392.5,338.7 395.8,329.5 398.3,329.5 401.7,332.8 405,340.3 408.3,353.7 411.7,365.3 415,377 418.3,384 421.7,384.5 425.8,382.5 430,382.8 434.2,385.7 437.5,386.5 441.7,384.5 445,378.7 448.3,365.3 451.7,352 455,342.8 459.5,336.7 463.3,342 467.5,347.8 470.3,351.7 474.2,348.3 477.5,346.7 480.8,348.7 485,354.5 490,360.3 495,366.2 499.5,369.2 503.3,363.7 506.7,357 510,347 513.3,340.3 517.5,337.3 520,343.7 521.7,347 524.2,345.3 527.5,349.5 532.5,358.3 536.7,357.8 539.7,356.7 542.5,346.2 546.7,337.8 550.5,332.3 554.2,334.2 557,333.3 561.7,337.3 567.5,338.3 572.5,334.5 577.5,327.8 582.5,325 586.7,326.7 590,332 594.2,333.7 597.5,334.5 601.7,340.3 605.8,347.8 609.7,352.5 614.2,349 617.5,348.3 620,349.5 624.2,345.3 627.5,343.3 630.8,350.3 634.2,359.5 638.3,363.7 642.5,366.2 645.8,372.8 650,379.2 653.3,384 656.7,382.8 660,384 664.2,390.3 668.3,394.5 672.5,393.2 675.8,392 679.2,386.2 682.5,375.3 685.8,366.2 689.2,362.3 693.3,361.2 697.5,361.5 700,364.5 704.2,368.7 708.3,375.3 711.7,368.3" fill="none" stroke="#ff0000" stroke-width="1" shape-rendering="crispEdges"/>
<g shape-rendering="crispEdges" fill="#000">
<rect x="3" y="319" width="1" height="88" fill="#000"/>
<rect x="719" y="319" width="1" height="88" fill="#000"/>
<rect x="3" y="319" width="717" height="1" fill="#000"/>
<rect x="3" y="406" width="717" height="1" fill="#000"/>
<rect x="720" y="334" width="4" height="1" fill="#000"/>
<rect x="720" y="353" width="4" height="1" fill="#000"/>
<rect x="720" y="372" width="4" height="1" fill="#000"/>
<rect x="720" y="391" width="4" height="1" fill="#000"/>
</g>
<text x="761.5" y="337.8" textLength="14" lengthAdjust="spacingAndGlyphs" stroke="#000">80</text>
<text x="761.5" y="356.8" textLength="14" lengthAdjust="spacingAndGlyphs" stroke="#000">60</text>
<text x="761.5" y="375.8" textLength="14" lengthAdjust="spacingAndGlyphs" stroke="#000">40</text>
<text x="761.5" y="394.8" textLength="14" lengthAdjust="spacingAndGlyphs" stroke="#000">20</text>
<rect x="9" y="313" width="361" height="15" fill="#fff"/>
<text x="10.39" y="324.5" textLength="35.2" lengthAdjust="spacingAndGlyphs" fill="#000" stroke="#000">WDNA</text>
<text x="48.85" y="324.5" textLength="4.0" lengthAdjust="spacingAndGlyphs" fill="#000" stroke="#000">-</text>
<text x="56.33" y="324.5" textLength="22.69" lengthAdjust="spacingAndGlyphs" fill="#ff0000" stroke="#ff0000">Line</text>
<text x="83.25" y="324.5" textLength="7.01" lengthAdjust="spacingAndGlyphs" fill="#000" stroke="#000">=</text>
<text x="92.9" y="324.5" textLength="34.53" lengthAdjust="spacingAndGlyphs" fill="#000" stroke="#000">45.22,</text>
<text x="130.03" y="324.5" textLength="20.68" lengthAdjust="spacingAndGlyphs" fill="#000" stroke="#000">Top</text>
<text x="154.1" y="324.5" textLength="7.01" lengthAdjust="spacingAndGlyphs" fill="#000" stroke="#000">=</text>
<text x="163.82" y="324.5" textLength="34.53" lengthAdjust="spacingAndGlyphs" fill="#000" stroke="#000">86.23,</text>
<text x="200.25" y="324.5" textLength="40.39" lengthAdjust="spacingAndGlyphs" fill="#000" stroke="#000">Bottom</text>
<text x="243.55" y="324.5" textLength="7.01" lengthAdjust="spacingAndGlyphs" fill="#000" stroke="#000">=</text>
<text x="252.68" y="324.5" textLength="34.53" lengthAdjust="spacingAndGlyphs" fill="#000" stroke="#000">20.53,</text>
<text x="290.85" y="324.5" textLength="33.36" lengthAdjust="spacingAndGlyphs" fill="#0000ff" stroke="#0000ff">Signal</text>
<text x="328.4" y="324.5" textLength="7.01" lengthAdjust="spacingAndGlyphs" fill="#000" stroke="#000">=</text>
<text x="338.39" y="324.5" textLength="31.08" lengthAdjust="spacingAndGlyphs" fill="#000" stroke="#000">44.16</text>
<g shape-rendering="crispEdges" fill="#000">
<line x1="4" y1="425.5" x2="719" y2="425.5" stroke="#000" stroke-width="1" stroke-dasharray="1 7"/>
<line x1="4" y1="462.5" x2="719" y2="462.5" stroke="#000" stroke-width="1" stroke-dasharray="1 7"/>
<line x1="4" y1="500.5" x2="719" y2="500.5" stroke="#000" stroke-width="1" stroke-dasharray="1 7"/>
<line x1="4" y1="537.5" x2="719" y2="537.5" stroke="#000" stroke-width="1" stroke-dasharray="1 7"/>
<line x1="4" y1="575.5" x2="719" y2="575.5" stroke="#000" stroke-width="1" stroke-dasharray="1 7"/>
<line x1="4" y1="613.5" x2="719" y2="613.5" stroke="#000" stroke-width="1" stroke-dasharray="1 7"/>
<line x1="4" y1="650.5" x2="719" y2="650.5" stroke="#000" stroke-width="1" stroke-dasharray="1 7"/>
<line x1="4" y1="688.5" x2="719" y2="688.5" stroke="#000" stroke-width="1" stroke-dasharray="1 7"/>
<line x1="4" y1="725.5" x2="719" y2="725.5" stroke="#000" stroke-width="1" stroke-dasharray="1 7"/>
</g>
<line x1="4" y1="569.5" x2="179" y2="569.5" stroke="#ff0000" stroke-width="3" stroke-dasharray="6 1 3 1" shape-rendering="crispEdges"/>
<line x1="180" y1="647.5" x2="270" y2="647.5" stroke="#ff0000" stroke-width="3" stroke-dasharray="6 1 3 1" shape-rendering="crispEdges"/>
<line x1="271" y1="659.5" x2="288" y2="659.5" stroke="#ff0000" stroke-width="3" stroke-dasharray="6 1 3 1" shape-rendering="crispEdges"/>
<line x1="285" y1="631.5" x2="306.7" y2="631.5" stroke="#ff0000" stroke-width="3" stroke-dasharray="6 1 3 1" shape-rendering="crispEdges"/>
<line x1="307.5" y1="634.5" x2="321" y2="634.5" stroke="#ff0000" stroke-width="3" stroke-dasharray="6 1 3 1" shape-rendering="crispEdges"/>
<line x1="321" y1="630.5" x2="336" y2="630.5" stroke="#ff0000" stroke-width="3" stroke-dasharray="6 1 3 1" shape-rendering="crispEdges"/>
<line x1="337.5" y1="624.5" x2="351" y2="624.5" stroke="#ff0000" stroke-width="3" stroke-dasharray="6 1 3 1" shape-rendering="crispEdges"/>
<line x1="351.3" y1="608.5" x2="395" y2="608.5" stroke="#ff0000" stroke-width="3" stroke-dasharray="6 1 3 1" shape-rendering="crispEdges"/>
<line x1="398" y1="572.5" x2="475" y2="572.5" stroke="#ff0000" stroke-width="3" stroke-dasharray="6 1 3 1" shape-rendering="crispEdges"/>
<line x1="475.8" y1="586.5" x2="545" y2="586.5" stroke="#ff0000" stroke-width="3" stroke-dasharray="6 1 3 1" shape-rendering="crispEdges"/>
<line x1="545" y1="578.5" x2="559.2" y2="578.5" stroke="#ff0000" stroke-width="3" stroke-dasharray="6 1 3 1" shape-rendering="crispEdges"/>
<line x1="560" y1="567.5" x2="588.7" y2="567.5" stroke="#ff0000" stroke-width="3" stroke-dasharray="6 1 3 1" shape-rendering="crispEdges"/>
<line x1="589.2" y1="506.5" x2="618" y2="506.5" stroke="#ff0000" stroke-width="3" stroke-dasharray="6 1 3 1" shape-rendering="crispEdges"/>
<line x1="619.2" y1="480.5" x2="713" y2="480.5" stroke="#ff0000" stroke-width="3" stroke-dasharray="6 1 3 1" shape-rendering="crispEdges"/>
<line x1="4" y1="595.5" x2="39" y2="595.5" stroke="#009400" stroke-width="3" stroke-dasharray="6 1 3 1" shape-rendering="crispEdges"/>
<line x1="40" y1="626.5" x2="58" y2="626.5" stroke="#009400" stroke-width="3" stroke-dasharray="6 1 3 1" shape-rendering="crispEdges"/>
<line x1="58.3" y1="633.5" x2="98" y2="633.5" stroke="#009400" stroke-width="3" stroke-dasharray="6 1 3 1" shape-rendering="crispEdges"/>
<line x1="99" y1="642.5" x2="113" y2="642.5" stroke="#009400" stroke-width="3" stroke-dasharray="6 1 3 1" shape-rendering="crispEdges"/>
<line x1="116.7" y1="663.5" x2="131.3" y2="663.5" stroke="#009400" stroke-width="3" stroke-dasharray="6 1 3 1" shape-rendering="crispEdges"/>
<line x1="131.7" y1="716.5" x2="223" y2="716.5" stroke="#009400" stroke-width="3" stroke-dasharray="6 1 3 1" shape-rendering="crispEdges"/>
<line x1="225.8" y1="687.5" x2="420.3" y2="687.5" stroke="#009400" stroke-width="3" stroke-dasharray="6 1 3 1" shape-rendering="crispEdges"/>
<line x1="420.8" y1="610.5" x2="442" y2="610.5" stroke="#009400" stroke-width="3" stroke-dasharray="6 1 3 1" shape-rendering="crispEdges"/>
<line x1="443.3" y1="627.5" x2="669.2" y2="627.5" stroke="#009400" stroke-width="3" stroke-dasharray="6 1 3 1" shape-rendering="crispEdges"/>
<line x1="670" y1="533.5" x2="713" y2="533.5" stroke="#009400" stroke-width="3" stroke-dasharray="6 1 3 1" shape-rendering="crispEdges"/>
<polyline points="9.5,593.6 10.8,594 16.7,597.5 20,605 25,623.3 28.3,634.3 33.3,649.3 37.5,657.7 41.7,662.2 46.7,661.8 52.5,660.5 56.7,663.5 61.7,669.3 66.7,674 71.7,675.7 76.7,674 83.3,669.3 90,666 95,665.2 99.2,666.8 103.3,672.7 108.3,681.8 113.3,692.7 120,701 124.2,711 128.3,719.3 132,723.5 136.7,725.7 141.7,721.8 146.7,712.7 151.7,701 158.3,690.2 165,681 168.3,671 171.7,659.3 175,647.7 178.3,635.5 181.7,626.3 185,618.3 188.3,611.7 191.7,607.5 195.8,605.5 199.2,607 201.7,613.3 205,625 208.3,638.3 211.7,652 213.3,659.3 217.5,674.3 221.7,689.3 225,699.3 228.3,706 232.5,710.2 236.7,704.3 241.7,697.7 246.7,693.5 250.8,693.8 255,696 260,696.8 263.3,696 266.7,692.7 270,686 273.3,672.7 276.7,657.7 280,642 283.3,627.5 286.7,615 290,605.8 293.3,600 297.5,597.2 301.7,599.2 305,602 309.2,604.5 315,603.7 320,601.7 326.7,597.5 333.3,593.3 338.3,590 343.3,585 350,578.3 356.7,574.2 361.7,568.3 365,565 367.5,564.5 370,565.8 373.3,572.5 378.3,583.3 382.5,592.5 385.8,597.5 390,596.5 393.3,588.3 397.5,571.7 401.7,561.7 405,556.7 407.5,555 410.8,559.2 413.3,565 416.7,580 420,596.7 423.3,611.7 426.7,625 430,636.5 434.2,647.5 436.7,651 440.8,661.8 444.2,669.3 448.3,669.3 452.5,659.3 456.7,644 460,629 463.3,615 467.5,605.8 471.7,598.3 476.7,588.3 480,580 483.3,571.7 486.7,567.5 491.7,565 496.7,566.7 501.7,569.2 505.8,569.2 510,565 514.2,558.3 518.3,554.7 520,553.5 525.8,553.3 530,556.7 533.3,560.8 536.7,565 540.8,567 544.2,565.3 547.5,558.3 551.7,549.2 555.8,540 559.2,535.5 565,527 570,520.3 575,512 578.3,502 581.7,490.3 585,480.3 588.3,470.3 591.7,462.8 595.8,455.3 599.2,449.5 602.5,446.7 605.8,446.5 609.2,447.8 611.7,448.3 615,446.2 620.8,442.8 625,437 629.2,432.3 632.5,431.5 636.7,432.8 640,436.2 643.3,441.2 646.7,449.5 650,459.5 651.7,465.3 654.2,478.7 656.7,493.7 659.2,505.3 661.7,517 664.2,527 666,533 667.5,540.7 671.7,557.3 675,569 678.3,575.7 681.7,577.3 685,573.2 688.3,564 691.7,555.7 695.8,548.2 700,541.8 703.3,540.7 706.7,542.3 710.8,545.7" fill="none" stroke="#0000ff" stroke-width="1" shape-rendering="crispEdges"/>
<g shape-rendering="crispEdges">
<rect x="4" y="577" width="3" height="8" fill="#000"/>
<rect x="5" y="578" width="1" height="6" fill="#fff"/>
<rect x="7" y="582" width="3" height="1" fill="#000"/>
<rect x="11" y="580" width="3" height="13" fill="#000"/>
<rect x="14" y="589" width="3" height="6" fill="#000"/>
<rect x="19" y="604" width="1" height="1" fill="#000"/>
<rect x="18" y="595" width="3" height="9" fill="#000"/>
<rect x="22" y="603" width="3" height="6" fill="#000"/>
<rect x="25" y="606" width="3" height="11" fill="#000"/>
<rect x="30" y="619" width="1" height="3" fill="#000"/>
<rect x="29" y="613" width="3" height="6" fill="#000"/>
<rect x="30" y="614" width="1" height="4" fill="#fff"/>
<rect x="33" y="608" width="3" height="19" fill="#000"/>
<rect x="37" y="628" width="1" height="5" fill="#000"/>
<rect x="36" y="626" width="3" height="3" fill="#000"/>
<rect x="37" y="627" width="1" height="1" fill="#fff"/>
<rect x="41" y="622" width="1" height="3" fill="#000"/>
<rect x="40" y="616" width="3" height="6" fill="#000"/>
<rect x="41" y="617" width="1" height="4" fill="#fff"/>
<rect x="44" y="619" width="3" height="3" fill="#000"/>
<rect x="48" y="621" width="1" height="4" fill="#000"/>
<rect x="47" y="619" width="3" height="2" fill="#000"/>
<rect x="51" y="632" width="3" height="5" fill="#000"/>
<rect x="55" y="634" width="3" height="5" fill="#000"/>
<rect x="56" y="635" width="1" height="3" fill="#fff"/>
<rect x="58" y="631" width="3" height="2" fill="#000"/>
<rect x="62" y="641" width="3" height="1" fill="#000"/>
<rect x="66" y="632" width="3" height="2" fill="#000"/>
<rect x="69" y="622" width="3" height="1" fill="#000"/>
<rect x="73" y="632" width="3" height="2" fill="#000"/>
<rect x="77" y="628" width="3" height="3" fill="#000"/>
<rect x="78" y="629" width="1" height="1" fill="#fff"/>
<rect x="81" y="633" width="3" height="1" fill="#000"/>
<rect x="84" y="632" width="3" height="4" fill="#000"/>
<rect x="85" y="633" width="1" height="2" fill="#fff"/>
<rect x="88" y="623" width="3" height="3" fill="#000"/>
<rect x="89" y="624" width="1" height="1" fill="#fff"/>
<rect x="91" y="634" width="3" height="1" fill="#000"/>
<rect x="95" y="641" width="3" height="2" fill="#000"/>
<rect x="99" y="642" width="3" height="1" fill="#000"/>
<rect x="102" y="650" width="3" height="1" fill="#000"/>
<rect x="107" y="657" width="1" height="4" fill="#000"/>
<rect x="106" y="652" width="3" height="5" fill="#000"/>
<rect x="110" y="661" width="3" height="8" fill="#000"/>
<rect x="113" y="660" width="3" height="3" fill="#000"/>
<rect x="114" y="661" width="1" height="1" fill="#fff"/>
<rect x="117" y="666" width="3" height="7" fill="#000"/>
<rect x="121" y="686" width="3" height="12" fill="#000"/>
<rect x="124" y="701" width="3" height="7" fill="#000"/>
<rect x="125" y="702" width="1" height="5" fill="#fff"/>
<rect x="128" y="689" width="3" height="28" fill="#000"/>
<rect x="132" y="679" width="3" height="38" fill="#000"/>
<rect x="133" y="680" width="1" height="36" fill="#fff"/>
<rect x="135" y="696" width="3" height="3" fill="#000"/>
<rect x="139" y="683" width="3" height="1" fill="#000"/>
<rect x="143" y="672" width="3" height="1" fill="#000"/>
<rect x="146" y="671" width="3" height="1" fill="#000"/>
<rect x="150" y="674" width="3" height="4" fill="#000"/>
<rect x="154" y="675" width="3" height="1" fill="#000"/>
<rect x="157" y="670" width="3" height="6" fill="#000"/>
<rect x="161" y="663" width="3" height="7" fill="#000"/>
<rect x="162" y="664" width="1" height="5" fill="#fff"/>
<rect x="166" y="645" width="1" height="3" fill="#000"/>
<rect x="166" y="656" width="1" height="2" fill="#000"/>
<rect x="165" y="648" width="3" height="8" fill="#000"/>
<rect x="168" y="649" width="3" height="1" fill="#000"/>
<rect x="172" y="649" width="3" height="6" fill="#000"/>
<rect x="173" y="650" width="1" height="4" fill="#fff"/>
<rect x="176" y="638" width="3" height="11" fill="#000"/>
<rect x="179" y="648" width="3" height="3" fill="#000"/>
<rect x="183" y="640" width="3" height="1" fill="#000"/>
<rect x="188" y="647" width="1" height="7" fill="#000"/>
<rect x="187" y="645" width="3" height="2" fill="#000"/>
<rect x="190" y="638" width="3" height="4" fill="#000"/>
<rect x="194" y="646" width="3" height="4" fill="#000"/>
<rect x="198" y="667" width="3" height="15" fill="#000"/>
<rect x="201" y="684" width="3" height="1" fill="#000"/>
<rect x="205" y="674" width="3" height="9" fill="#000"/>
<rect x="206" y="675" width="1" height="7" fill="#fff"/>
<rect x="208" y="683" width="3" height="2" fill="#000"/>
<rect x="212" y="667" width="3" height="4" fill="#000"/>
<rect x="213" y="668" width="1" height="2" fill="#fff"/>
<rect x="216" y="676" width="3" height="3" fill="#000"/>
<rect x="217" y="677" width="1" height="1" fill="#fff"/>
<rect x="220" y="680" width="3" height="8" fill="#000"/>
<rect x="224" y="684" width="3" height="3" fill="#000"/>
<rect x="225" y="685" width="1" height="1" fill="#fff"/>
<rect x="227" y="673" width="3" height="1" fill="#000"/>
<rect x="231" y="669" width="3" height="1" fill="#000"/>
<rect x="234" y="660" width="3" height="6" fill="#000"/>
<rect x="235" y="661" width="1" height="4" fill="#fff"/>
<rect x="238" y="666" width="3" height="10" fill="#000"/>
<rect x="242" y="674" width="3" height="3" fill="#000"/>
<rect x="243" y="675" width="1" height="1" fill="#fff"/>
<rect x="245" y="677" width="3" height="1" fill="#000"/>
<rect x="249" y="673" width="3" height="4" fill="#000"/>
<rect x="252" y="673" width="3" height="3" fill="#000"/>
<rect x="253" y="674" width="1" height="1" fill="#fff"/>
<rect x="256" y="671" width="3" height="3" fill="#000"/>
<rect x="257" y="672" width="1" height="1" fill="#fff"/>
<rect x="260" y="675" width="3" height="3" fill="#000"/>
<rect x="261" y="676" width="1" height="1" fill="#fff"/>
<rect x="263" y="664" width="3" height="1" fill="#000"/>
<rect x="267" y="658" width="3" height="11" fill="#000"/>
<rect x="268" y="659" width="1" height="9" fill="#fff"/>
<rect x="271" y="659" width="3" height="1" fill="#000"/>
<rect x="274" y="658" width="3" height="1" fill="#000"/>
<rect x="279" y="644" width="1" height="1" fill="#000"/>
<rect x="278" y="645" width="3" height="8" fill="#000"/>
<rect x="279" y="646" width="1" height="6" fill="#fff"/>
<rect x="283" y="642" width="1" height="1" fill="#000"/>
<rect x="282" y="640" width="3" height="2" fill="#000"/>
<rect x="285" y="631" width="3" height="3" fill="#000"/>
<rect x="286" y="632" width="1" height="1" fill="#fff"/>
<rect x="289" y="632" width="3" height="4" fill="#000"/>
<rect x="293" y="640" width="3" height="1" fill="#000"/>
<rect x="297" y="634" width="1" height="1" fill="#000"/>
<rect x="297" y="645" width="1" height="5" fill="#000"/>
<rect x="296" y="635" width="3" height="10" fill="#000"/>
<rect x="300" y="643" width="3" height="2" fill="#000"/>
<rect x="305" y="632" width="1" height="5" fill="#000"/>
<rect x="304" y="637" width="3" height="2" fill="#000"/>
<rect x="307" y="633" width="3" height="1" fill="#000"/>
<rect x="311" y="638" width="3" height="3" fill="#000"/>
<rect x="312" y="639" width="1" height="1" fill="#fff"/>
<rect x="315" y="640" width="3" height="2" fill="#000"/>
<rect x="319" y="627" width="1" height="2" fill="#000"/>
<rect x="318" y="629" width="3" height="3" fill="#000"/>
<rect x="319" y="630" width="1" height="1" fill="#fff"/>
<rect x="322" y="631" width="3" height="2" fill="#000"/>
<rect x="326" y="632" width="3" height="2" fill="#000"/>
<rect x="329" y="633" width="3" height="3" fill="#000"/>
<rect x="330" y="634" width="1" height="1" fill="#fff"/>
<rect x="333" y="624" width="3" height="1" fill="#000"/>
<rect x="338" y="625" width="1" height="4" fill="#000"/>
<rect x="337" y="629" width="3" height="10" fill="#000"/>
<rect x="338" y="630" width="1" height="8" fill="#fff"/>
<rect x="340" y="615" width="3" height="10" fill="#000"/>
<rect x="341" y="616" width="1" height="8" fill="#fff"/>
<rect x="344" y="608" width="3" height="3" fill="#000"/>
<rect x="348" y="607" width="3" height="13" fill="#000"/>
<rect x="352" y="608" width="1" height="3" fill="#000"/>
<rect x="351" y="611" width="3" height="9" fill="#000"/>
<rect x="352" y="612" width="1" height="7" fill="#fff"/>
<rect x="355" y="596" width="3" height="8" fill="#000"/>
<rect x="356" y="597" width="1" height="6" fill="#fff"/>
<rect x="359" y="585" width="3" height="6" fill="#000"/>
<rect x="362" y="599" width="3" height="3" fill="#000"/>
<rect x="366" y="605" width="3" height="6" fill="#000"/>
<rect x="367" y="606" width="1" height="4" fill="#fff"/>
<rect x="370" y="605" width="3" height="14" fill="#000"/>
<rect x="374" y="612" width="1" height="2" fill="#000"/>
<rect x="373" y="610" width="3" height="3" fill="#000"/>
<rect x="374" y="611" width="1" height="1" fill="#fff"/>
<rect x="377" y="607" width="3" height="3" fill="#000"/>
<rect x="382" y="608" width="1" height="1" fill="#000"/>
<rect x="381" y="609" width="3" height="1" fill="#000"/>
<rect x="384" y="598" width="3" height="9" fill="#000"/>
<rect x="388" y="588" width="3" height="8" fill="#000"/>
<rect x="389" y="589" width="1" height="6" fill="#fff"/>
<rect x="393" y="568" width="1" height="4" fill="#000"/>
<rect x="392" y="572" width="3" height="10" fill="#000"/>
<rect x="393" y="573" width="1" height="8" fill="#fff"/>
<rect x="395" y="572" width="3" height="6" fill="#000"/>
<rect x="399" y="581" width="3" height="2" fill="#000"/>
<rect x="403" y="583" width="3" height="4" fill="#000"/>
<rect x="406" y="592" width="3" height="12" fill="#000"/>
<rect x="411" y="595" width="1" height="1" fill="#000"/>
<rect x="410" y="596" width="3" height="12" fill="#000"/>
<rect x="414" y="608" width="3" height="11" fill="#000"/>
<rect x="418" y="623" width="1" height="6" fill="#000"/>
<rect x="417" y="621" width="3" height="2" fill="#000"/>
<rect x="421" y="611" width="3" height="1" fill="#000"/>
<rect x="426" y="612" width="1" height="2" fill="#000"/>
<rect x="425" y="614" width="3" height="5" fill="#000"/>
<rect x="426" y="615" width="1" height="3" fill="#fff"/>
<rect x="429" y="613" width="1" height="2" fill="#000"/>
<rect x="429" y="624" width="1" height="1" fill="#000"/>
<rect x="428" y="615" width="3" height="9" fill="#000"/>
<rect x="433" y="631" width="1" height="2" fill="#000"/>
<rect x="432" y="626" width="3" height="5" fill="#000"/>
<rect x="436" y="627" width="3" height="8" fill="#000"/>
<rect x="440" y="636" width="1" height="2" fill="#000"/>
<rect x="439" y="635" width="3" height="1" fill="#000"/>
<rect x="443" y="626" width="3" height="2" fill="#000"/>
<rect x="447" y="598" width="3" height="23" fill="#000"/>
<rect x="448" y="599" width="1" height="21" fill="#fff"/>
<rect x="451" y="601" width="1" height="1" fill="#000"/>
<rect x="450" y="599" width="3" height="3" fill="#000"/>
<rect x="451" y="600" width="1" height="1" fill="#fff"/>
<rect x="454" y="593" width="3" height="5" fill="#000"/>
<rect x="455" y="594" width="1" height="3" fill="#fff"/>
<rect x="458" y="593" width="3" height="3" fill="#000"/>
<rect x="461" y="601" width="3" height="6" fill="#000"/>
<rect x="465" y="605" width="3" height="3" fill="#000"/>
<rect x="466" y="606" width="1" height="1" fill="#fff"/>
<rect x="469" y="603" width="3" height="2" fill="#000"/>
<rect x="472" y="586" width="3" height="2" fill="#000"/>
<rect x="477" y="586" width="1" height="1" fill="#000"/>
<rect x="476" y="587" width="3" height="1" fill="#000"/>
<rect x="480" y="599" width="3" height="2" fill="#000"/>
<rect x="483" y="599" width="3" height="3" fill="#000"/>
<rect x="484" y="600" width="1" height="1" fill="#fff"/>
<rect x="487" y="599" width="3" height="1" fill="#000"/>
<rect x="491" y="603" width="1" height="3" fill="#000"/>
<rect x="490" y="601" width="3" height="3" fill="#000"/>
<rect x="491" y="602" width="1" height="1" fill="#fff"/>
<rect x="494" y="601" width="3" height="2" fill="#000"/>
<rect x="498" y="594" width="3" height="6" fill="#000"/>
<rect x="501" y="597" width="3" height="2" fill="#000"/>
<rect x="505" y="595" width="3" height="6" fill="#000"/>
<rect x="506" y="596" width="1" height="4" fill="#fff"/>
<rect x="509" y="585" width="3" height="1" fill="#000"/>
<rect x="513" y="589" width="1" height="2" fill="#000"/>
<rect x="512" y="584" width="3" height="5" fill="#000"/>
<rect x="516" y="587" width="3" height="1" fill="#000"/>
<rect x="519" y="586" width="3" height="11" fill="#000"/>
<rect x="523" y="582" width="3" height="3" fill="#000"/>
<rect x="524" y="583" width="1" height="1" fill="#fff"/>
<rect x="527" y="586" width="3" height="7" fill="#000"/>
<rect x="531" y="592" width="3" height="5" fill="#000"/>
<rect x="534" y="586" width="3" height="6" fill="#000"/>
<rect x="535" y="587" width="1" height="4" fill="#fff"/>
<rect x="538" y="589" width="3" height="1" fill="#000"/>
<rect x="542" y="568" width="3" height="16" fill="#000"/>
<rect x="543" y="569" width="1" height="14" fill="#fff"/>
<rect x="545" y="578" width="3" height="1" fill="#000"/>
<rect x="549" y="566" width="3" height="1" fill="#000"/>
<rect x="553" y="568" width="3" height="7" fill="#000"/>
<rect x="557" y="559" width="1" height="1" fill="#000"/>
<rect x="556" y="560" width="3" height="9" fill="#000"/>
<rect x="557" y="561" width="1" height="7" fill="#fff"/>
<rect x="560" y="568" width="3" height="2" fill="#000"/>
<rect x="564" y="561" width="3" height="8" fill="#000"/>
<rect x="565" y="562" width="1" height="6" fill="#fff"/>
<rect x="567" y="554" width="3" height="4" fill="#000"/>
<rect x="568" y="555" width="1" height="2" fill="#fff"/>
<rect x="571" y="542" width="3" height="1" fill="#000"/>
<rect x="576" y="524" width="1" height="2" fill="#000"/>
<rect x="575" y="526" width="3" height="3" fill="#000"/>
<rect x="576" y="527" width="1" height="1" fill="#fff"/>
<rect x="578" y="511" width="3" height="1" fill="#000"/>
<rect x="582" y="506" width="3" height="1" fill="#000"/>
<rect x="586" y="499" width="3" height="5" fill="#000"/>
<rect x="589" y="507" width="3" height="4" fill="#000"/>
<rect x="590" y="508" width="1" height="2" fill="#fff"/>
<rect x="594" y="475" width="1" height="7" fill="#000"/>
<rect x="593" y="482" width="3" height="12" fill="#000"/>
<rect x="594" y="483" width="1" height="10" fill="#fff"/>
<rect x="598" y="476" width="1" height="2" fill="#000"/>
<rect x="597" y="478" width="3" height="3" fill="#000"/>
<rect x="601" y="503" width="1" height="2" fill="#000"/>
<rect x="600" y="481" width="3" height="22" fill="#000"/>
<rect x="604" y="495" width="3" height="8" fill="#000"/>
<rect x="608" y="496" width="3" height="12" fill="#000"/>
<rect x="609" y="497" width="1" height="10" fill="#fff"/>
<rect x="611" y="471" width="3" height="17" fill="#000"/>
<rect x="612" y="472" width="1" height="15" fill="#fff"/>
<rect x="616" y="461" width="1" height="3" fill="#000"/>
<rect x="615" y="464" width="3" height="16" fill="#000"/>
<rect x="619" y="480" width="3" height="9" fill="#000"/>
<rect x="622" y="464" width="3" height="6" fill="#000"/>
<rect x="623" y="465" width="1" height="4" fill="#fff"/>
<rect x="626" y="469" width="3" height="1" fill="#000"/>
<rect x="631" y="495" width="1" height="1" fill="#000"/>
<rect x="630" y="475" width="3" height="20" fill="#000"/>
<rect x="633" y="488" width="3" height="6" fill="#000"/>
<rect x="634" y="489" width="1" height="4" fill="#fff"/>
<rect x="637" y="484" width="3" height="1" fill="#000"/>
<rect x="641" y="488" width="3" height="1" fill="#000"/>
<rect x="644" y="492" width="3" height="4" fill="#000"/>
<rect x="649" y="492" width="1" height="5" fill="#000"/>
<rect x="648" y="497" width="3" height="7" fill="#000"/>
<rect x="652" y="502" width="3" height="2" fill="#000"/>
<rect x="655" y="495" width="3" height="1" fill="#000"/>
<rect x="660" y="516" width="1" height="6" fill="#000"/>
<rect x="659" y="499" width="3" height="17" fill="#000"/>
<rect x="663" y="522" width="3" height="6" fill="#000"/>
<rect x="667" y="529" width="1" height="4" fill="#000"/>
<rect x="666" y="527" width="3" height="3" fill="#000"/>
<rect x="667" y="528" width="1" height="1" fill="#fff"/>
<rect x="670" y="532" width="3" height="2" fill="#000"/>
<rect x="675" y="546" width="1" height="3" fill="#000"/>
<rect x="674" y="539" width="3" height="7" fill="#000"/>
<rect x="675" y="540" width="1" height="5" fill="#fff"/>
<rect x="677" y="531" width="3" height="1" fill="#000"/>
<rect x="681" y="510" width="3" height="20" fill="#000"/>
<rect x="682" y="511" width="1" height="18" fill="#fff"/>
<rect x="686" y="509" width="1" height="1" fill="#000"/>
<rect x="685" y="507" width="3" height="2" fill="#000"/>
<rect x="689" y="514" width="1" height="2" fill="#000"/>
<rect x="688" y="516" width="3" height="5" fill="#000"/>
<rect x="692" y="518" width="3" height="2" fill="#000"/>
<rect x="696" y="519" width="3" height="2" fill="#000"/>
<rect x="699" y="528" width="3" height="2" fill="#000"/>
<rect x="703" y="523" width="3" height="6" fill="#000"/>
<rect x="707" y="511" width="3" height="23" fill="#000"/>
<rect x="710" y="512" width="3" height="21" fill="#000"/>
<rect x="711" y="513" width="1" height="19" fill="#fff"/>
</g>
<path shape-rendering="crispEdges" fill="#009400" d="M5,591h1v2h1v2h1v2h1v2h1v1h-3v6h-3v-6h-3v-1h1v-2h1v-2h1v-2h1z"/>
<path shape-rendering="crispEdges" fill="#009400" d="M48,633h1v2h1v2h1v2h1v2h1v1h-3v6h-3v-6h-3v-1h1v-2h1v-2h1v-2h1z"/>
<path shape-rendering="crispEdges" fill="#009400" d="M74,640h1v2h1v2h1v2h1v2h1v1h-3v6h-3v-6h-3v-1h1v-2h1v-2h1v-2h1z"/>
<path shape-rendering="crispEdges" fill="#009400" d="M140,690h1v2h1v2h1v2h1v2h1v1h-3v6h-3v-6h-3v-1h1v-2h1v-2h1v-2h1z"/>
<path shape-rendering="crispEdges" fill="#009400" d="M235,674h1v2h1v2h1v2h1v2h1v1h-3v6h-3v-6h-3v-1h1v-2h1v-2h1v-2h1z"/>
<path shape-rendering="crispEdges" fill="#009400" d="M264,671h1v2h1v2h1v2h1v2h1v1h-3v6h-3v-6h-3v-1h1v-2h1v-2h1v-2h1z"/>
<path shape-rendering="crispEdges" fill="#009400" d="M389,603h1v2h1v2h1v2h1v2h1v1h-3v6h-3v-6h-3v-1h1v-2h1v-2h1v-2h1z"/>
<path shape-rendering="crispEdges" fill="#009400" d="M448,628h1v2h1v2h1v2h1v2h1v1h-3v6h-3v-6h-3v-1h1v-2h1v-2h1v-2h1z"/>
<path shape-rendering="crispEdges" fill="#009400" d="M686,517h1v2h1v2h1v2h1v2h1v1h-3v6h-3v-6h-3v-1h1v-2h1v-2h1v-2h1z"/>
<path shape-rendering="crispEdges" fill="#ff0000" d="M15,585h1v-2h1v-2h1v-2h1v-2h1v-1h-3v-6h-3v6h-3v1h1v2h1v2h1v2h1z"/>
<path shape-rendering="crispEdges" fill="#ff0000" d="M199,660h1v-2h1v-2h1v-2h1v-2h1v-1h-3v-6h-3v6h-3v1h1v2h1v2h1v2h1z"/>
<path shape-rendering="crispEdges" fill="#ff0000" d="M301,635h1v-2h1v-2h1v-2h1v-2h1v-1h-3v-6h-3v6h-3v1h1v2h1v2h1v2h1z"/>
<path shape-rendering="crispEdges" fill="#ff0000" d="M371,599h1v-2h1v-2h1v-2h1v-2h1v-1h-3v-6h-3v6h-3v1h1v2h1v2h1v2h1z"/>
<path shape-rendering="crispEdges" fill="#ff0000" d="M411,585h1v-2h1v-2h1v-2h1v-2h1v-1h-3v-6h-3v6h-3v1h1v2h1v2h1v2h1z"/>
<path shape-rendering="crispEdges" fill="#ff0000" d="M495,594h1v-2h1v-2h1v-2h1v-2h1v-1h-3v-6h-3v6h-3v1h1v2h1v2h1v2h1z"/>
<path shape-rendering="crispEdges" fill="#ff0000" d="M528,579h1v-2h1v-2h1v-2h1v-2h1v-1h-3v-6h-3v6h-3v1h1v2h1v2h1v2h1z"/>
<path shape-rendering="crispEdges" fill="#ff0000" d="M609,489h1v-2h1v-2h1v-2h1v-2h1v-1h-3v-6h-3v6h-3v1h1v2h1v2h1v2h1z"/>
<path shape-rendering="crispEdges" fill="#ff0000" d="M634,481h1v-2h1v-2h1v-2h1v-2h1v-1h-3v-6h-3v6h-3v1h1v2h1v2h1v2h1z"/>
<g shape-rendering="crispEdges" fill="#000">
<rect x="3" y="416" width="1" height="316" fill="#000"/>
<rect x="719" y="416" width="1" height="316" fill="#000"/>
<rect x="3" y="416" width="717" height="1" fill="#000"/>
<rect x="3" y="731" width="717" height="1" fill="#000"/>
<rect x="720" y="425" width="4" height="1" fill="#000"/>
<rect x="720" y="462" width="4" height="1" fill="#000"/>
<rect x="720" y="500" width="4" height="1" fill="#000"/>
<rect x="720" y="537" width="4" height="1" fill="#000"/>
<rect x="720" y="575" width="4" height="1" fill="#000"/>
<rect x="720" y="613" width="4" height="1" fill="#000"/>
<rect x="720" y="650" width="4" height="1" fill="#000"/>
<rect x="720" y="688" width="4" height="1" fill="#000"/>
<rect x="720" y="725" width="4" height="1" fill="#000"/>
</g>
<g shape-rendering="crispEdges">
<rect x="34" y="731" width="1" height="8" fill="#000"/>
<rect x="111" y="731" width="1" height="8" fill="#000"/>
<rect x="188" y="731" width="1" height="8" fill="#000"/>
<rect x="264" y="731" width="1" height="8" fill="#000"/>
<rect x="338" y="731" width="1" height="8" fill="#000"/>
<rect x="418" y="731" width="1" height="8" fill="#000"/>
<rect x="499" y="731" width="1" height="8" fill="#000"/>
<rect x="576" y="731" width="1" height="8" fill="#000"/>
<rect x="660" y="731" width="1" height="8" fill="#000"/>
</g>
<text x="8.8" y="742.3" stroke="#000">Feb</text>
<text x="37.8" y="742.3" textLength="20" lengthAdjust="spacingAndGlyphs" stroke="#000">Mar</text>
<text x="115" y="742.3" stroke="#000">Apr</text>
<text x="191.5" y="742.3" textLength="21.4" lengthAdjust="spacingAndGlyphs" stroke="#000">May</text>
<text x="268.1" y="742.3" stroke="#000">Jun</text>
<text x="342.5" y="742.3" stroke="#000">Jul</text>
<text x="423" y="742.3" stroke="#000">Aug</text>
<text x="503.2" y="742.3" stroke="#000">Sep</text>
<text x="580.3" y="742.3" stroke="#000">Oct</text>
<text x="663.8" y="742.3" stroke="#000">Nov</text>
<text x="762.3" y="428.8" textLength="14" lengthAdjust="spacingAndGlyphs" stroke="#000">19</text>
<text x="762.3" y="465.8" textLength="14" lengthAdjust="spacingAndGlyphs" stroke="#000">18</text>
<text x="762.3" y="503.8" textLength="14" lengthAdjust="spacingAndGlyphs" stroke="#000">17</text>
<text x="762.3" y="540.8" textLength="14" lengthAdjust="spacingAndGlyphs" stroke="#000">16</text>
<text x="762.3" y="578.8" textLength="14" lengthAdjust="spacingAndGlyphs" stroke="#000">15</text>
<text x="762.3" y="616.8" textLength="14" lengthAdjust="spacingAndGlyphs" stroke="#000">14</text>
<text x="762.3" y="653.8" textLength="14" lengthAdjust="spacingAndGlyphs" stroke="#000">13</text>
<text x="762.3" y="691.8" textLength="14" lengthAdjust="spacingAndGlyphs" stroke="#000">12</text>
<text x="762.3" y="728.8" textLength="14" lengthAdjust="spacingAndGlyphs" stroke="#000">11</text>
<rect x="9" y="410" width="425" height="14" fill="#fff"/>
<text x="10.39" y="421.7" textLength="35.2" lengthAdjust="spacingAndGlyphs" fill="#000" stroke="#000">WDNA</text>
<text x="48.85" y="421.7" textLength="4.0" lengthAdjust="spacingAndGlyphs" fill="#000" stroke="#000">-</text>
<text x="55.68" y="421.7" textLength="26.67" lengthAdjust="spacingAndGlyphs" fill="#000" stroke="#000">Daily</text>
<text x="85.55" y="421.7" textLength="65.88" lengthAdjust="spacingAndGlyphs" fill="#000" stroke="#000">2025-11-21</text>
<text x="153.63" y="421.7" textLength="29.36" lengthAdjust="spacingAndGlyphs" fill="#000" stroke="#000">Open</text>
<text x="186.12" y="421.7" textLength="34.53" lengthAdjust="spacingAndGlyphs" fill="#000" stroke="#000">16.12,</text>
<text x="220.6" y="421.7" textLength="11.33" lengthAdjust="spacingAndGlyphs" fill="#000" stroke="#000">Hi</text>
<text x="234.82" y="421.7" textLength="34.53" lengthAdjust="spacingAndGlyphs" fill="#000" stroke="#000">16.67,</text>
<text x="269.99" y="421.7" textLength="13.35" lengthAdjust="spacingAndGlyphs" fill="#000" stroke="#000">Lo</text>
<text x="287.22" y="421.7" textLength="34.53" lengthAdjust="spacingAndGlyphs" fill="#000" stroke="#000">16.12,</text>
<text x="324.37" y="421.7" textLength="30.68" lengthAdjust="spacingAndGlyphs" fill="#000" stroke="#000">Close</text>
<text x="359.45" y="421.7" textLength="31.08" lengthAdjust="spacingAndGlyphs" fill="#000" stroke="#000">16.67</text>
<text x="393.03" y="421.7" textLength="36.75" lengthAdjust="spacingAndGlyphs" fill="#000" stroke="#000">(3.5%)</text>
<rect x="9" y="424" width="298" height="14" fill="#fff"/>
<text x="10.4" y="435.5" textLength="17.34" lengthAdjust="spacingAndGlyphs" fill="#000" stroke="#000">Vol</text>
<text x="30.28" y="435.5" textLength="36.9" lengthAdjust="spacingAndGlyphs" fill="#000" stroke="#000">83,600</text>
<text x="71.03" y="435.5" textLength="20.68" lengthAdjust="spacingAndGlyphs" fill="#ff0000" stroke="#ff0000">Top</text>
<text x="95.6" y="435.5" textLength="7.01" lengthAdjust="spacingAndGlyphs" fill="#000" stroke="#000">=</text>
<text x="105.07" y="435.5" textLength="34.53" lengthAdjust="spacingAndGlyphs" fill="#000" stroke="#000">17.54,</text>
<text x="141.99" y="435.5" textLength="38.81" lengthAdjust="spacingAndGlyphs" fill="#009400" stroke="#009400">Bottom</text>
<text x="184.65" y="435.5" textLength="7.01" lengthAdjust="spacingAndGlyphs" fill="#000" stroke="#000">=</text>
<text x="194.62" y="435.5" textLength="34.53" lengthAdjust="spacingAndGlyphs" fill="#000" stroke="#000">16.12,</text>
<text x="231.93" y="435.5" textLength="31.35" lengthAdjust="spacingAndGlyphs" fill="#0000ff" stroke="#0000ff">Trend</text>
<text x="267.15" y="435.5" textLength="7.01" lengthAdjust="spacingAndGlyphs" fill="#000" stroke="#000">=</text>
<text x="276.49" y="435.5" textLength="31.08" lengthAdjust="spacingAndGlyphs" fill="#000" stroke="#000">15.81</text>
</svg></body></html>
